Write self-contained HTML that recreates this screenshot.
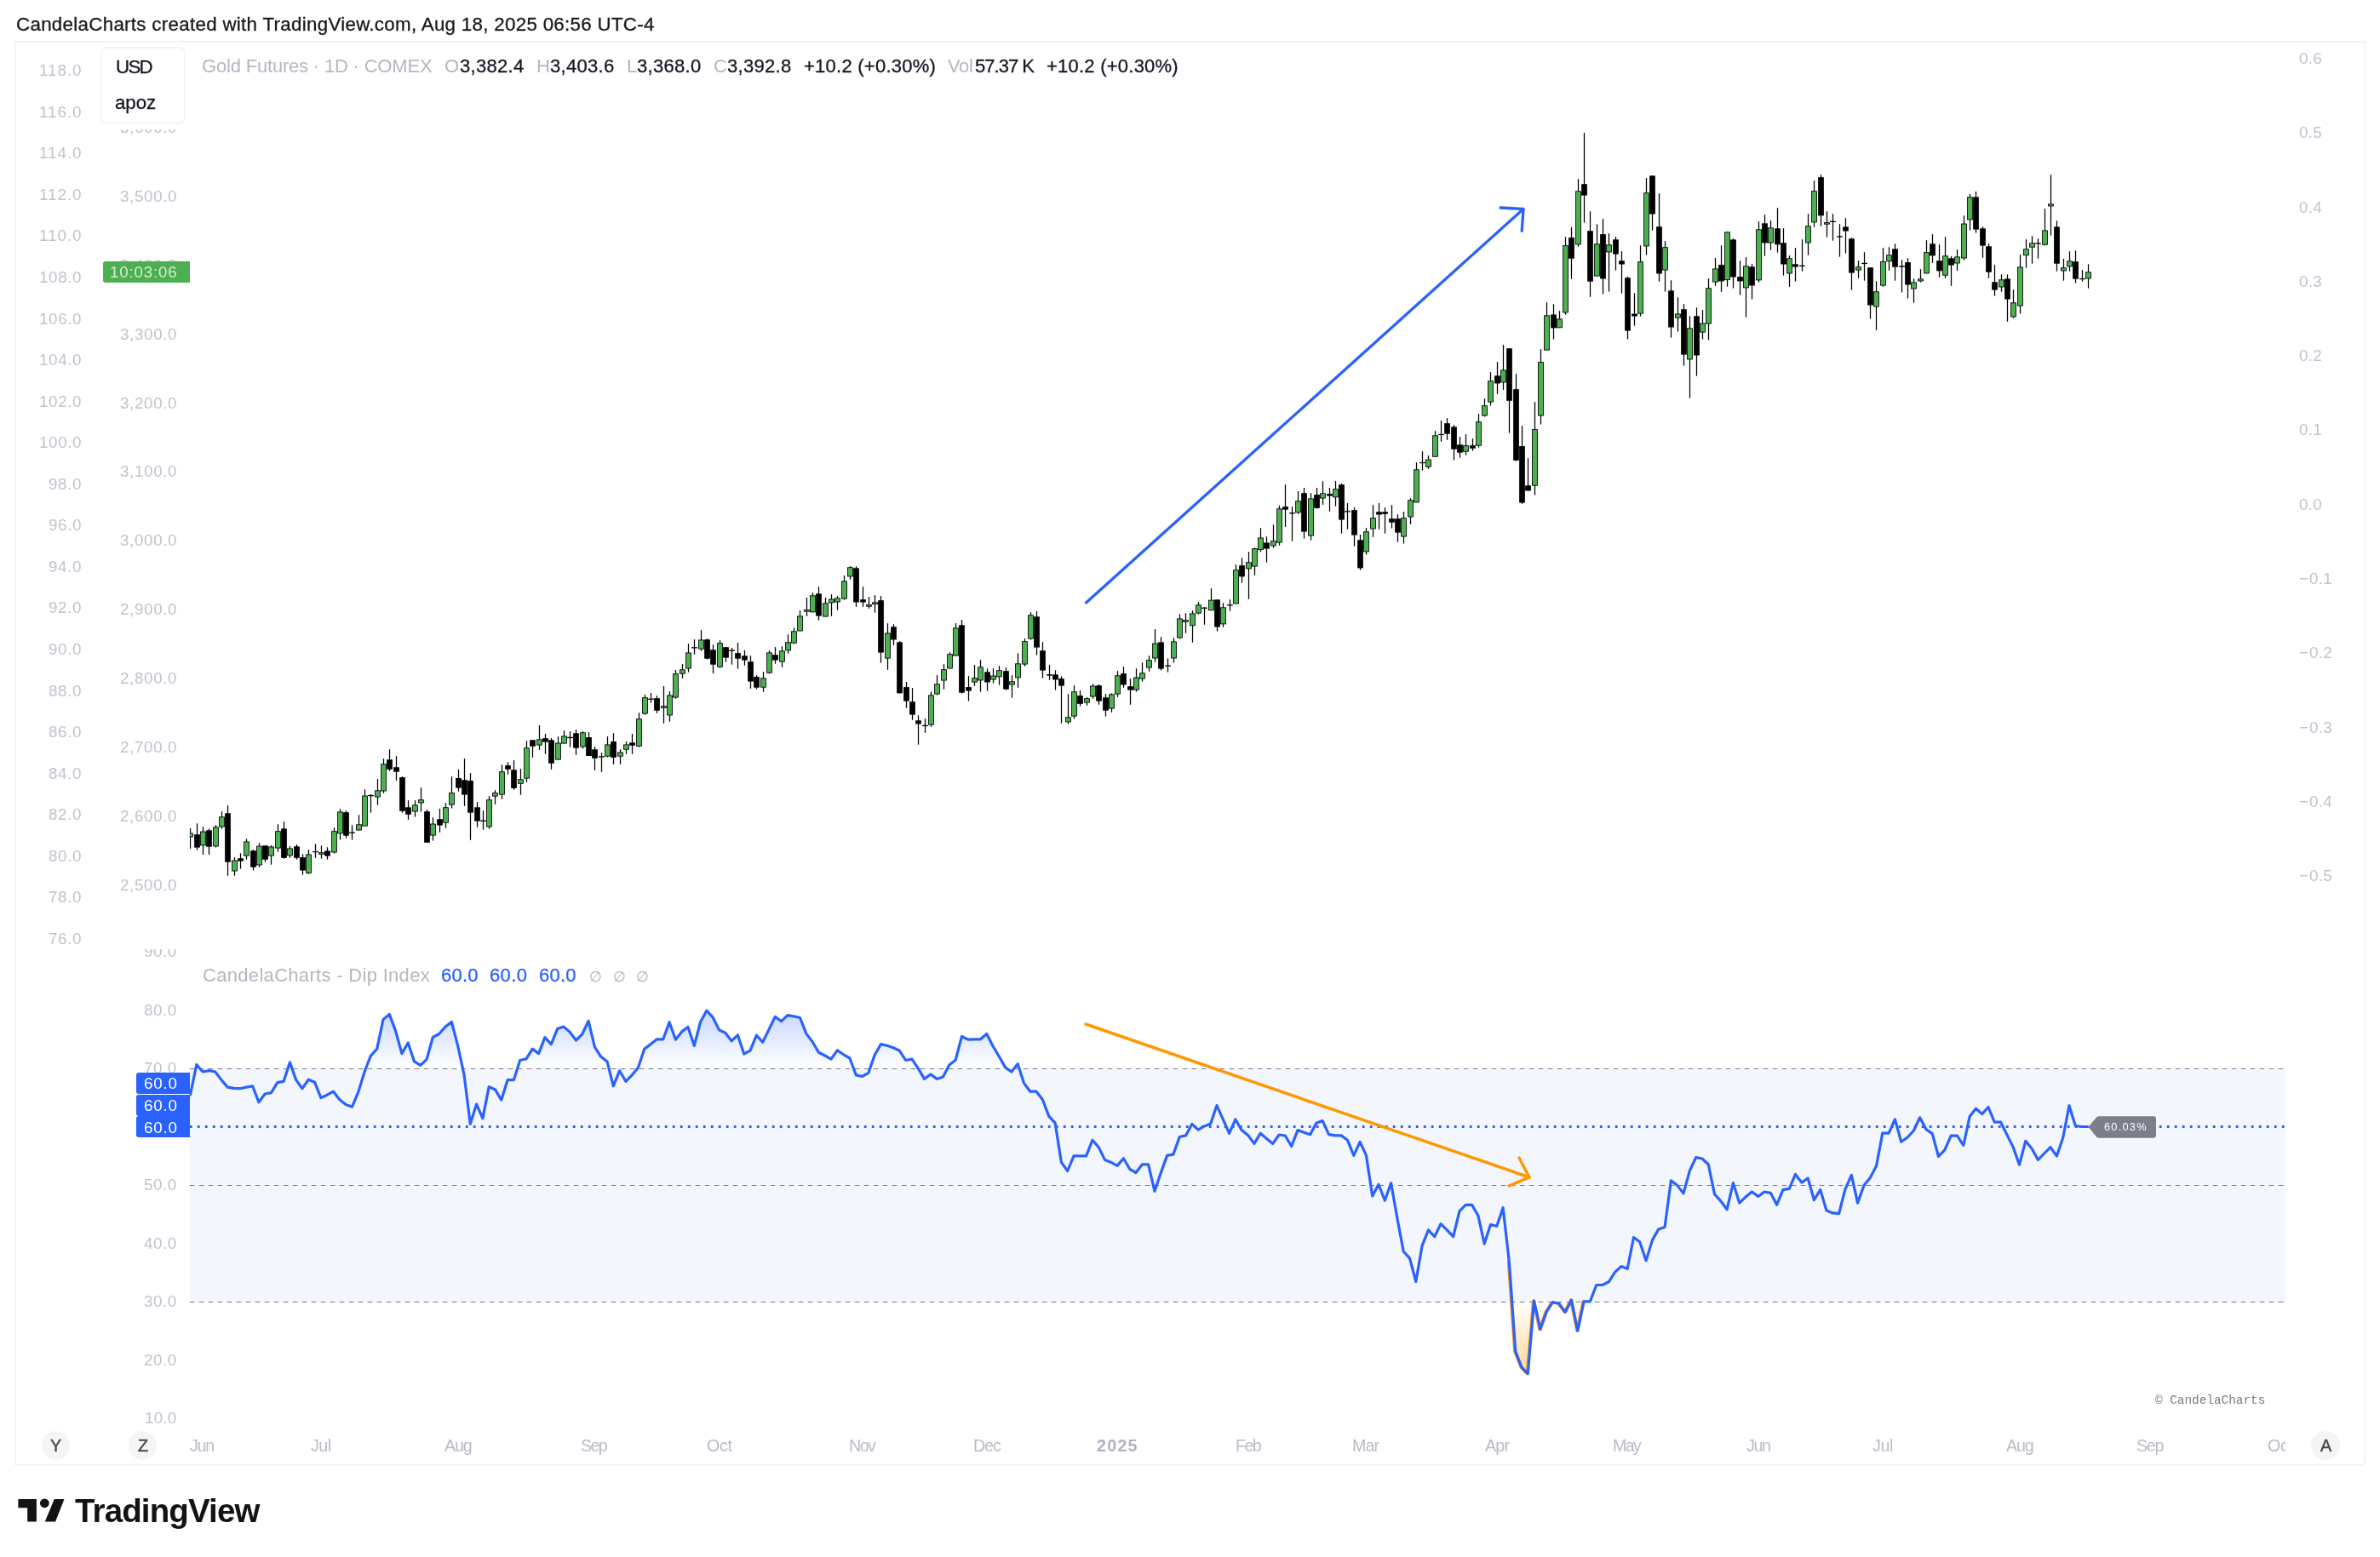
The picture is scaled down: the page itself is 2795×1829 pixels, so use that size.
<!DOCTYPE html>
<html><head><meta charset="utf-8"><title>Gold Futures chart</title>
<style>
html,body{margin:0;padding:0;background:#fff;}
body{width:2795px;height:1829px;position:relative;overflow:hidden;}
.t{position:absolute;white-space:pre;line-height:1;will-change:transform;}
svg{position:absolute;left:0;top:0;}
</style></head><body>
<svg width="2795" height="1829" viewBox="0 0 2795 1829">
<rect x="17.9" y="48.9" width="2759.1" height="1672" fill="none" stroke="#f4f4f5" stroke-width="2"/>
<rect x="222.8" y="1255.5" width="2461" height="274" fill="#f4f6fe"/>
<defs><clipPath id="cp"><rect x="222.8" y="50" width="2461" height="1640"/></clipPath><linearGradient id="gu" gradientUnits="userSpaceOnUse" x1="0" y1="1186" x2="0" y2="1255"><stop offset="0" stop-color="#2962ff" stop-opacity="0.26"/><stop offset="1" stop-color="#2962ff" stop-opacity="0"/></linearGradient><linearGradient id="gd" gradientUnits="userSpaceOnUse" x1="0" y1="1529" x2="0" y2="1612"><stop offset="0" stop-color="#ff9800" stop-opacity="0"/><stop offset="1" stop-color="#ff9800" stop-opacity="0.4"/></linearGradient><clipPath id="cu"><rect x="222.8" y="1100" width="2461" height="155.3"/></clipPath><clipPath id="cd"><rect x="222.8" y="1529.5" width="2461" height="170"/></clipPath></defs>
<polygon clip-path="url(#cu)" fill="url(#gu)" points="223.5,1285.9 230.8,1250.6 238.1,1259.0 245.4,1257.6 252.7,1259.0 260.0,1268.6 267.3,1277.1 274.6,1278.3 281.9,1278.7 289.2,1277.1 296.6,1275.8 303.9,1294.8 311.2,1285.0 318.5,1283.7 325.8,1271.6 333.1,1270.3 340.4,1247.9 347.7,1268.6 355.0,1278.7 362.3,1268.2 369.6,1271.3 376.9,1289.6 384.2,1286.2 391.5,1282.2 398.8,1291.8 406.1,1297.6 413.5,1300.2 420.8,1282.9 428.1,1259.0 435.4,1240.2 442.7,1232.1 450.0,1197.6 457.3,1191.4 464.6,1211.1 471.9,1237.6 479.2,1225.0 486.5,1246.9 493.8,1251.4 501.1,1244.4 508.4,1218.3 515.7,1214.5 523.0,1206.1 530.4,1200.5 537.7,1228.7 545.0,1262.4 552.3,1320.3 559.6,1297.1 566.9,1313.9 574.2,1276.6 581.5,1280.0 588.8,1292.1 596.1,1268.6 603.4,1268.6 610.7,1245.5 618.0,1243.9 625.3,1232.1 632.6,1237.6 639.9,1218.7 647.3,1226.6 654.6,1208.6 661.9,1206.1 669.2,1212.4 676.5,1222.0 683.8,1214.8 691.1,1199.3 698.4,1229.9 705.7,1241.3 713.0,1246.9 720.3,1275.8 727.6,1257.8 734.9,1270.3 742.2,1262.9 749.5,1253.9 756.8,1232.1 764.2,1226.6 771.5,1220.8 778.8,1220.8 786.1,1200.7 793.4,1221.2 800.7,1211.9 808.0,1206.4 815.3,1228.4 822.6,1200.5 829.9,1187.1 837.2,1195.1 844.5,1209.9 851.8,1213.3 859.1,1222.9 866.4,1215.8 873.7,1238.0 881.0,1234.1 888.4,1216.1 895.7,1224.2 903.0,1209.4 910.3,1194.3 917.6,1199.7 924.9,1192.6 932.2,1193.8 939.5,1195.5 946.8,1214.1 954.1,1223.7 961.4,1236.3 968.7,1240.0 976.0,1244.2 983.3,1233.8 990.6,1238.8 997.9,1243.0 1005.3,1262.9 1012.6,1264.5 1019.9,1260.3 1027.2,1239.2 1034.5,1226.6 1041.8,1228.2 1049.1,1230.8 1056.4,1234.3 1063.7,1245.5 1071.0,1244.2 1078.3,1255.1 1085.6,1267.4 1092.9,1262.0 1100.2,1267.4 1107.5,1264.9 1114.8,1250.9 1122.2,1245.2 1129.5,1217.3 1136.8,1221.2 1144.1,1220.8 1151.4,1220.8 1158.7,1214.5 1166.0,1228.7 1173.3,1241.0 1180.6,1253.9 1187.9,1259.0 1195.2,1249.7 1202.5,1272.4 1209.8,1282.2 1217.1,1282.2 1224.4,1291.8 1231.7,1311.1 1239.1,1319.2 1246.4,1365.4 1253.7,1375.5 1261.0,1357.8 1268.3,1357.8 1275.6,1357.8 1282.9,1339.3 1290.2,1347.6 1297.5,1362.4 1304.8,1365.4 1312.1,1369.4 1319.4,1360.7 1326.7,1373.3 1334.0,1377.5 1341.3,1367.9 1348.6,1367.9 1356.0,1399.3 1363.3,1377.6 1370.6,1357.4 1377.9,1356.1 1385.2,1335.5 1392.5,1333.9 1399.8,1320.4 1407.1,1327.1 1414.4,1322.9 1421.7,1320.1 1429.0,1298.6 1436.3,1314.9 1443.6,1331.3 1450.9,1315.0 1458.2,1327.6 1465.5,1333.4 1472.9,1343.4 1480.2,1331.3 1487.5,1337.6 1494.8,1343.4 1502.1,1333.0 1509.4,1334.2 1516.7,1346.5 1524.0,1327.6 1531.3,1330.2 1538.6,1332.7 1545.9,1319.2 1553.2,1316.6 1560.5,1332.7 1567.8,1333.9 1575.1,1333.9 1582.4,1339.2 1589.8,1357.4 1597.1,1341.4 1604.4,1357.1 1611.7,1405.0 1619.0,1391.3 1626.3,1410.3 1633.6,1389.8 1640.9,1431.3 1648.2,1470.0 1655.5,1478.1 1662.8,1505.6 1670.1,1463.3 1677.4,1444.8 1684.7,1452.7 1692.0,1437.6 1699.3,1444.8 1706.7,1452.7 1714.0,1422.6 1721.3,1415.4 1728.6,1415.4 1735.9,1428.0 1743.2,1461.1 1750.5,1438.6 1757.8,1440.3 1765.1,1418.7 1772.4,1482.6 1779.7,1587.3 1787.0,1606.1 1794.3,1613.7 1801.6,1528.0 1808.9,1561.6 1816.2,1540.9 1823.6,1529.7 1830.9,1531.3 1838.2,1541.4 1845.5,1527.1 1852.8,1563.3 1860.1,1528.8 1867.4,1528.8 1874.7,1509.5 1882.0,1509.5 1889.3,1505.8 1896.6,1494.4 1903.9,1487.6 1911.2,1490.5 1918.5,1453.5 1925.8,1459.1 1933.1,1480.9 1940.5,1456.6 1947.8,1443.9 1955.1,1441.4 1962.4,1386.8 1969.7,1392.4 1977.0,1401.9 1984.3,1375.3 1991.6,1359.7 1998.9,1361.0 2006.2,1367.7 2013.5,1402.7 2020.8,1410.9 2028.1,1420.7 2035.4,1389.6 2042.7,1413.1 2050.0,1406.1 2057.4,1400.0 2064.7,1405.5 2072.0,1400.0 2079.3,1401.3 2086.6,1415.3 2093.9,1397.6 2101.2,1396.3 2108.5,1379.5 2115.8,1389.1 2123.1,1384.0 2130.4,1409.7 2137.7,1397.5 2145.0,1422.0 2152.3,1424.9 2159.6,1425.7 2166.9,1397.1 2174.3,1380.3 2181.6,1413.1 2188.9,1392.6 2196.2,1383.7 2203.5,1369.7 2210.8,1331.1 2218.1,1331.1 2225.4,1314.8 2232.7,1341.3 2240.0,1336.3 2247.3,1328.2 2254.6,1312.8 2261.9,1326.6 2269.2,1331.6 2276.5,1358.5 2283.8,1350.9 2291.2,1334.1 2298.5,1334.1 2305.8,1345.5 2313.1,1311.8 2320.4,1302.2 2327.7,1308.6 2335.0,1300.5 2342.3,1318.2 2349.6,1318.2 2356.9,1332.9 2364.2,1347.6 2371.5,1368.2 2378.8,1340.3 2386.1,1349.2 2393.4,1362.4 2400.7,1355.0 2408.0,1347.7 2415.4,1358.0 2422.7,1336.6 2430.0,1298.7 2437.3,1322.5 2444.6,1323.5 2451.9,1323.5 2451.9,1255.5 223.5,1255.5"/>
<polygon clip-path="url(#cd)" fill="url(#gd)" points="223.5,1285.9 230.8,1250.6 238.1,1259.0 245.4,1257.6 252.7,1259.0 260.0,1268.6 267.3,1277.1 274.6,1278.3 281.9,1278.7 289.2,1277.1 296.6,1275.8 303.9,1294.8 311.2,1285.0 318.5,1283.7 325.8,1271.6 333.1,1270.3 340.4,1247.9 347.7,1268.6 355.0,1278.7 362.3,1268.2 369.6,1271.3 376.9,1289.6 384.2,1286.2 391.5,1282.2 398.8,1291.8 406.1,1297.6 413.5,1300.2 420.8,1282.9 428.1,1259.0 435.4,1240.2 442.7,1232.1 450.0,1197.6 457.3,1191.4 464.6,1211.1 471.9,1237.6 479.2,1225.0 486.5,1246.9 493.8,1251.4 501.1,1244.4 508.4,1218.3 515.7,1214.5 523.0,1206.1 530.4,1200.5 537.7,1228.7 545.0,1262.4 552.3,1320.3 559.6,1297.1 566.9,1313.9 574.2,1276.6 581.5,1280.0 588.8,1292.1 596.1,1268.6 603.4,1268.6 610.7,1245.5 618.0,1243.9 625.3,1232.1 632.6,1237.6 639.9,1218.7 647.3,1226.6 654.6,1208.6 661.9,1206.1 669.2,1212.4 676.5,1222.0 683.8,1214.8 691.1,1199.3 698.4,1229.9 705.7,1241.3 713.0,1246.9 720.3,1275.8 727.6,1257.8 734.9,1270.3 742.2,1262.9 749.5,1253.9 756.8,1232.1 764.2,1226.6 771.5,1220.8 778.8,1220.8 786.1,1200.7 793.4,1221.2 800.7,1211.9 808.0,1206.4 815.3,1228.4 822.6,1200.5 829.9,1187.1 837.2,1195.1 844.5,1209.9 851.8,1213.3 859.1,1222.9 866.4,1215.8 873.7,1238.0 881.0,1234.1 888.4,1216.1 895.7,1224.2 903.0,1209.4 910.3,1194.3 917.6,1199.7 924.9,1192.6 932.2,1193.8 939.5,1195.5 946.8,1214.1 954.1,1223.7 961.4,1236.3 968.7,1240.0 976.0,1244.2 983.3,1233.8 990.6,1238.8 997.9,1243.0 1005.3,1262.9 1012.6,1264.5 1019.9,1260.3 1027.2,1239.2 1034.5,1226.6 1041.8,1228.2 1049.1,1230.8 1056.4,1234.3 1063.7,1245.5 1071.0,1244.2 1078.3,1255.1 1085.6,1267.4 1092.9,1262.0 1100.2,1267.4 1107.5,1264.9 1114.8,1250.9 1122.2,1245.2 1129.5,1217.3 1136.8,1221.2 1144.1,1220.8 1151.4,1220.8 1158.7,1214.5 1166.0,1228.7 1173.3,1241.0 1180.6,1253.9 1187.9,1259.0 1195.2,1249.7 1202.5,1272.4 1209.8,1282.2 1217.1,1282.2 1224.4,1291.8 1231.7,1311.1 1239.1,1319.2 1246.4,1365.4 1253.7,1375.5 1261.0,1357.8 1268.3,1357.8 1275.6,1357.8 1282.9,1339.3 1290.2,1347.6 1297.5,1362.4 1304.8,1365.4 1312.1,1369.4 1319.4,1360.7 1326.7,1373.3 1334.0,1377.5 1341.3,1367.9 1348.6,1367.9 1356.0,1399.3 1363.3,1377.6 1370.6,1357.4 1377.9,1356.1 1385.2,1335.5 1392.5,1333.9 1399.8,1320.4 1407.1,1327.1 1414.4,1322.9 1421.7,1320.1 1429.0,1298.6 1436.3,1314.9 1443.6,1331.3 1450.9,1315.0 1458.2,1327.6 1465.5,1333.4 1472.9,1343.4 1480.2,1331.3 1487.5,1337.6 1494.8,1343.4 1502.1,1333.0 1509.4,1334.2 1516.7,1346.5 1524.0,1327.6 1531.3,1330.2 1538.6,1332.7 1545.9,1319.2 1553.2,1316.6 1560.5,1332.7 1567.8,1333.9 1575.1,1333.9 1582.4,1339.2 1589.8,1357.4 1597.1,1341.4 1604.4,1357.1 1611.7,1405.0 1619.0,1391.3 1626.3,1410.3 1633.6,1389.8 1640.9,1431.3 1648.2,1470.0 1655.5,1478.1 1662.8,1505.6 1670.1,1463.3 1677.4,1444.8 1684.7,1452.7 1692.0,1437.6 1699.3,1444.8 1706.7,1452.7 1714.0,1422.6 1721.3,1415.4 1728.6,1415.4 1735.9,1428.0 1743.2,1461.1 1750.5,1438.6 1757.8,1440.3 1765.1,1418.7 1772.4,1482.6 1779.7,1587.3 1787.0,1606.1 1794.3,1613.7 1801.6,1528.0 1808.9,1561.6 1816.2,1540.9 1823.6,1529.7 1830.9,1531.3 1838.2,1541.4 1845.5,1527.1 1852.8,1563.3 1860.1,1528.8 1867.4,1528.8 1874.7,1509.5 1882.0,1509.5 1889.3,1505.8 1896.6,1494.4 1903.9,1487.6 1911.2,1490.5 1918.5,1453.5 1925.8,1459.1 1933.1,1480.9 1940.5,1456.6 1947.8,1443.9 1955.1,1441.4 1962.4,1386.8 1969.7,1392.4 1977.0,1401.9 1984.3,1375.3 1991.6,1359.7 1998.9,1361.0 2006.2,1367.7 2013.5,1402.7 2020.8,1410.9 2028.1,1420.7 2035.4,1389.6 2042.7,1413.1 2050.0,1406.1 2057.4,1400.0 2064.7,1405.5 2072.0,1400.0 2079.3,1401.3 2086.6,1415.3 2093.9,1397.6 2101.2,1396.3 2108.5,1379.5 2115.8,1389.1 2123.1,1384.0 2130.4,1409.7 2137.7,1397.5 2145.0,1422.0 2152.3,1424.9 2159.6,1425.7 2166.9,1397.1 2174.3,1380.3 2181.6,1413.1 2188.9,1392.6 2196.2,1383.7 2203.5,1369.7 2210.8,1331.1 2218.1,1331.1 2225.4,1314.8 2232.7,1341.3 2240.0,1336.3 2247.3,1328.2 2254.6,1312.8 2261.9,1326.6 2269.2,1331.6 2276.5,1358.5 2283.8,1350.9 2291.2,1334.1 2298.5,1334.1 2305.8,1345.5 2313.1,1311.8 2320.4,1302.2 2327.7,1308.6 2335.0,1300.5 2342.3,1318.2 2349.6,1318.2 2356.9,1332.9 2364.2,1347.6 2371.5,1368.2 2378.8,1340.3 2386.1,1349.2 2393.4,1362.4 2400.7,1355.0 2408.0,1347.7 2415.4,1358.0 2422.7,1336.6 2430.0,1298.7 2437.3,1322.5 2444.6,1323.5 2451.9,1323.5 2451.9,1529.5 223.5,1529.5"/>
<line x1="222.8" x2="2683.8" y1="1255.5" y2="1255.5" stroke="#787b86" stroke-width="1.1" stroke-dasharray="5.5 5.5"/>
<line x1="222.8" x2="2683.8" y1="1392.5" y2="1392.5" stroke="#787b86" stroke-width="1.1" stroke-dasharray="5.5 5.5"/>
<line x1="222.8" x2="2683.8" y1="1529.5" y2="1529.5" stroke="#787b86" stroke-width="1.1" stroke-dasharray="5.5 5.5"/>
<line x1="222.8" x2="2683.8" y1="1323.5" y2="1323.5" stroke="#2962ff" stroke-width="2.8" stroke-dasharray="2.8 6.2"/>
<polyline fill="none" stroke="#f5941f" stroke-width="3" stroke-linejoin="round" stroke-linecap="round" points="1771.4,1481.6 1771.3,1482.6 1778.6,1587.3 1785.9,1606.1 1793.2,1613.7 1800.5,1528.0 1807.8,1561.6 1815.1,1540.9 1822.5,1529.7 1829.8,1531.3 1837.1,1541.4 1844.4,1527.1 1851.7,1563.3 1859.0,1528.8"/>
<polyline clip-path="url(#cp)" fill="none" stroke="#2962ff" stroke-width="3.2" stroke-linejoin="round" stroke-linecap="round" points="223.5,1285.9 230.8,1250.6 238.1,1259.0 245.4,1257.6 252.7,1259.0 260.0,1268.6 267.3,1277.1 274.6,1278.3 281.9,1278.7 289.2,1277.1 296.6,1275.8 303.9,1294.8 311.2,1285.0 318.5,1283.7 325.8,1271.6 333.1,1270.3 340.4,1247.9 347.7,1268.6 355.0,1278.7 362.3,1268.2 369.6,1271.3 376.9,1289.6 384.2,1286.2 391.5,1282.2 398.8,1291.8 406.1,1297.6 413.5,1300.2 420.8,1282.9 428.1,1259.0 435.4,1240.2 442.7,1232.1 450.0,1197.6 457.3,1191.4 464.6,1211.1 471.9,1237.6 479.2,1225.0 486.5,1246.9 493.8,1251.4 501.1,1244.4 508.4,1218.3 515.7,1214.5 523.0,1206.1 530.4,1200.5 537.7,1228.7 545.0,1262.4 552.3,1320.3 559.6,1297.1 566.9,1313.9 574.2,1276.6 581.5,1280.0 588.8,1292.1 596.1,1268.6 603.4,1268.6 610.7,1245.5 618.0,1243.9 625.3,1232.1 632.6,1237.6 639.9,1218.7 647.3,1226.6 654.6,1208.6 661.9,1206.1 669.2,1212.4 676.5,1222.0 683.8,1214.8 691.1,1199.3 698.4,1229.9 705.7,1241.3 713.0,1246.9 720.3,1275.8 727.6,1257.8 734.9,1270.3 742.2,1262.9 749.5,1253.9 756.8,1232.1 764.2,1226.6 771.5,1220.8 778.8,1220.8 786.1,1200.7 793.4,1221.2 800.7,1211.9 808.0,1206.4 815.3,1228.4 822.6,1200.5 829.9,1187.1 837.2,1195.1 844.5,1209.9 851.8,1213.3 859.1,1222.9 866.4,1215.8 873.7,1238.0 881.0,1234.1 888.4,1216.1 895.7,1224.2 903.0,1209.4 910.3,1194.3 917.6,1199.7 924.9,1192.6 932.2,1193.8 939.5,1195.5 946.8,1214.1 954.1,1223.7 961.4,1236.3 968.7,1240.0 976.0,1244.2 983.3,1233.8 990.6,1238.8 997.9,1243.0 1005.3,1262.9 1012.6,1264.5 1019.9,1260.3 1027.2,1239.2 1034.5,1226.6 1041.8,1228.2 1049.1,1230.8 1056.4,1234.3 1063.7,1245.5 1071.0,1244.2 1078.3,1255.1 1085.6,1267.4 1092.9,1262.0 1100.2,1267.4 1107.5,1264.9 1114.8,1250.9 1122.2,1245.2 1129.5,1217.3 1136.8,1221.2 1144.1,1220.8 1151.4,1220.8 1158.7,1214.5 1166.0,1228.7 1173.3,1241.0 1180.6,1253.9 1187.9,1259.0 1195.2,1249.7 1202.5,1272.4 1209.8,1282.2 1217.1,1282.2 1224.4,1291.8 1231.7,1311.1 1239.1,1319.2 1246.4,1365.4 1253.7,1375.5 1261.0,1357.8 1268.3,1357.8 1275.6,1357.8 1282.9,1339.3 1290.2,1347.6 1297.5,1362.4 1304.8,1365.4 1312.1,1369.4 1319.4,1360.7 1326.7,1373.3 1334.0,1377.5 1341.3,1367.9 1348.6,1367.9 1356.0,1399.3 1363.3,1377.6 1370.6,1357.4 1377.9,1356.1 1385.2,1335.5 1392.5,1333.9 1399.8,1320.4 1407.1,1327.1 1414.4,1322.9 1421.7,1320.1 1429.0,1298.6 1436.3,1314.9 1443.6,1331.3 1450.9,1315.0 1458.2,1327.6 1465.5,1333.4 1472.9,1343.4 1480.2,1331.3 1487.5,1337.6 1494.8,1343.4 1502.1,1333.0 1509.4,1334.2 1516.7,1346.5 1524.0,1327.6 1531.3,1330.2 1538.6,1332.7 1545.9,1319.2 1553.2,1316.6 1560.5,1332.7 1567.8,1333.9 1575.1,1333.9 1582.4,1339.2 1589.8,1357.4 1597.1,1341.4 1604.4,1357.1 1611.7,1405.0 1619.0,1391.3 1626.3,1410.3 1633.6,1389.8 1640.9,1431.3 1648.2,1470.0 1655.5,1478.1 1662.8,1505.6 1670.1,1463.3 1677.4,1444.8 1684.7,1452.7 1692.0,1437.6 1699.3,1444.8 1706.7,1452.7 1714.0,1422.6 1721.3,1415.4 1728.6,1415.4 1735.9,1428.0 1743.2,1461.1 1750.5,1438.6 1757.8,1440.3 1765.1,1418.7 1772.4,1482.6 1779.7,1587.3 1787.0,1606.1 1794.3,1613.7 1801.6,1528.0 1808.9,1561.6 1816.2,1540.9 1823.6,1529.7 1830.9,1531.3 1838.2,1541.4 1845.5,1527.1 1852.8,1563.3 1860.1,1528.8 1867.4,1528.8 1874.7,1509.5 1882.0,1509.5 1889.3,1505.8 1896.6,1494.4 1903.9,1487.6 1911.2,1490.5 1918.5,1453.5 1925.8,1459.1 1933.1,1480.9 1940.5,1456.6 1947.8,1443.9 1955.1,1441.4 1962.4,1386.8 1969.7,1392.4 1977.0,1401.9 1984.3,1375.3 1991.6,1359.7 1998.9,1361.0 2006.2,1367.7 2013.5,1402.7 2020.8,1410.9 2028.1,1420.7 2035.4,1389.6 2042.7,1413.1 2050.0,1406.1 2057.4,1400.0 2064.7,1405.5 2072.0,1400.0 2079.3,1401.3 2086.6,1415.3 2093.9,1397.6 2101.2,1396.3 2108.5,1379.5 2115.8,1389.1 2123.1,1384.0 2130.4,1409.7 2137.7,1397.5 2145.0,1422.0 2152.3,1424.9 2159.6,1425.7 2166.9,1397.1 2174.3,1380.3 2181.6,1413.1 2188.9,1392.6 2196.2,1383.7 2203.5,1369.7 2210.8,1331.1 2218.1,1331.1 2225.4,1314.8 2232.7,1341.3 2240.0,1336.3 2247.3,1328.2 2254.6,1312.8 2261.9,1326.6 2269.2,1331.6 2276.5,1358.5 2283.8,1350.9 2291.2,1334.1 2298.5,1334.1 2305.8,1345.5 2313.1,1311.8 2320.4,1302.2 2327.7,1308.6 2335.0,1300.5 2342.3,1318.2 2349.6,1318.2 2356.9,1332.9 2364.2,1347.6 2371.5,1368.2 2378.8,1340.3 2386.1,1349.2 2393.4,1362.4 2400.7,1355.0 2408.0,1347.7 2415.4,1358.0 2422.7,1336.6 2430.0,1298.7 2437.3,1322.5 2444.6,1323.5 2451.9,1323.5"/>
<g clip-path="url(#cp)"><line x1="223.5" x2="223.5" y1="973.1" y2="996.9" stroke="#000" stroke-width="1.25"/><rect x="220.57" y="979.0" width="5.86" height="4.0" fill="#4caf50" stroke="#000" stroke-width="0.85"/><line x1="231.5" x2="231.5" y1="967.3" y2="998.8" stroke="#000" stroke-width="1.25"/><rect x="228.13" y="980.2" width="6.74" height="15.4" fill="#000"/><line x1="238.5" x2="238.5" y1="971.2" y2="1003.9" stroke="#000" stroke-width="1.25"/><rect x="235.57" y="977.0" width="5.86" height="15.9" fill="#4caf50" stroke="#000" stroke-width="0.85"/><line x1="245.5" x2="245.5" y1="973.4" y2="1003.9" stroke="#000" stroke-width="1.25"/><rect x="242.13" y="975.3" width="6.74" height="19.4" fill="#000"/><line x1="253.5" x2="253.5" y1="969.3" y2="995.6" stroke="#000" stroke-width="1.25"/><rect x="250.57" y="971.8" width="5.86" height="22.1" fill="#4caf50" stroke="#000" stroke-width="0.85"/><line x1="260.5" x2="260.5" y1="953.2" y2="973.7" stroke="#000" stroke-width="1.25"/><rect x="257.57" y="959.8" width="5.86" height="11.2" fill="#4caf50" stroke="#000" stroke-width="0.85"/><line x1="267.5" x2="267.5" y1="946.1" y2="1028.7" stroke="#000" stroke-width="1.25"/><rect x="264.13" y="955.3" width="6.74" height="57.4" fill="#000"/><line x1="275.5" x2="275.5" y1="1007.1" y2="1028.7" stroke="#000" stroke-width="1.25"/><rect x="272.57" y="1011.0" width="5.86" height="12.0" fill="#4caf50" stroke="#000" stroke-width="0.85"/><line x1="282.5" x2="282.5" y1="1002.3" y2="1020.6" stroke="#000" stroke-width="1.25"/><rect x="279.13" y="1008.2" width="6.74" height="3.4" fill="#000"/><line x1="289.5" x2="289.5" y1="985.3" y2="1009.7" stroke="#000" stroke-width="1.25"/><rect x="286.57" y="988.9" width="5.86" height="16.2" fill="#4caf50" stroke="#000" stroke-width="0.85"/><line x1="297.5" x2="297.5" y1="998.1" y2="1022.5" stroke="#000" stroke-width="1.25"/><rect x="294.13" y="999.2" width="6.74" height="19.5" fill="#000"/><line x1="304.5" x2="304.5" y1="990.2" y2="1018.7" stroke="#000" stroke-width="1.25"/><rect x="301.57" y="994.1" width="5.86" height="21.9" fill="#4caf50" stroke="#000" stroke-width="0.85"/><line x1="311.5" x2="311.5" y1="993.0" y2="1012.7" stroke="#000" stroke-width="1.25"/><rect x="308.13" y="993.3" width="6.74" height="16.4" fill="#000"/><line x1="318.5" x2="318.5" y1="993.0" y2="1015.7" stroke="#000" stroke-width="1.25"/><rect x="315.57" y="994.9" width="5.86" height="10.2" fill="#4caf50" stroke="#000" stroke-width="0.85"/><line x1="326.5" x2="326.5" y1="968.2" y2="1000.7" stroke="#000" stroke-width="1.25"/><rect x="323.57" y="976.7" width="5.86" height="19.4" fill="#4caf50" stroke="#000" stroke-width="0.85"/><line x1="333.5" x2="333.5" y1="965.1" y2="1008.7" stroke="#000" stroke-width="1.25"/><rect x="330.13" y="973.4" width="6.74" height="34.4" fill="#000"/><line x1="340.5" x2="340.5" y1="994.0" y2="1007.8" stroke="#000" stroke-width="1.25"/><rect x="337.57" y="996.9" width="5.86" height="7.9" fill="#4caf50" stroke="#000" stroke-width="0.85"/><line x1="348.5" x2="348.5" y1="992.0" y2="1009.7" stroke="#000" stroke-width="1.25"/><rect x="345.13" y="994.3" width="6.74" height="13.5" fill="#000"/><line x1="355.5" x2="355.5" y1="1003.3" y2="1027.7" stroke="#000" stroke-width="1.25"/><rect x="352.13" y="1007.1" width="6.74" height="15.4" fill="#000"/><line x1="362.5" x2="362.5" y1="998.1" y2="1026.8" stroke="#000" stroke-width="1.25"/><rect x="359.57" y="1003.9" width="5.86" height="21.5" fill="#4caf50" stroke="#000" stroke-width="0.85"/><line x1="370.5" x2="370.5" y1="991.3" y2="1007.8" stroke="#000" stroke-width="1.25"/><rect x="367.13" y="999.9" width="6.74" height="1.3" fill="#000"/><line x1="377.5" x2="377.5" y1="993.3" y2="1008.7" stroke="#000" stroke-width="1.25"/><rect x="374.57" y="1001.7" width="5.86" height="1.6" fill="#4caf50" stroke="#000" stroke-width="0.85"/><line x1="384.5" x2="384.5" y1="995.2" y2="1009.7" stroke="#000" stroke-width="1.25"/><rect x="381.13" y="999.4" width="6.74" height="6.2" fill="#000"/><line x1="392.5" x2="392.5" y1="972.2" y2="1002.6" stroke="#000" stroke-width="1.25"/><rect x="389.57" y="976.7" width="5.86" height="24.3" fill="#4caf50" stroke="#000" stroke-width="0.85"/><line x1="399.5" x2="399.5" y1="950.2" y2="986.6" stroke="#000" stroke-width="1.25"/><rect x="396.57" y="953.9" width="5.86" height="25.0" fill="#4caf50" stroke="#000" stroke-width="0.85"/><line x1="406.5" x2="406.5" y1="952.2" y2="984.7" stroke="#000" stroke-width="1.25"/><rect x="403.13" y="954.2" width="6.74" height="27.5" fill="#000"/><line x1="413.5" x2="413.5" y1="969.3" y2="986.6" stroke="#000" stroke-width="1.25"/><rect x="410.13" y="977.5" width="6.74" height="1.3" fill="#000"/><line x1="421.5" x2="421.5" y1="957.3" y2="975.7" stroke="#000" stroke-width="1.25"/><rect x="418.57" y="968.8" width="5.86" height="6.2" fill="#4caf50" stroke="#000" stroke-width="0.85"/><line x1="428.5" x2="428.5" y1="927.3" y2="970.5" stroke="#000" stroke-width="1.25"/><rect x="425.57" y="935.0" width="5.86" height="35.1" fill="#4caf50" stroke="#000" stroke-width="0.85"/><line x1="435.5" x2="435.5" y1="933.0" y2="954.7" stroke="#000" stroke-width="1.25"/><rect x="432.13" y="933.9" width="6.74" height="1.3" fill="#000"/><line x1="443.5" x2="443.5" y1="915.1" y2="945.8" stroke="#000" stroke-width="1.25"/><rect x="440.57" y="928.8" width="5.86" height="7.3" fill="#4caf50" stroke="#000" stroke-width="0.85"/><line x1="450.5" x2="450.5" y1="891.2" y2="931.8" stroke="#000" stroke-width="1.25"/><rect x="447.57" y="897.7" width="5.86" height="31.3" fill="#4caf50" stroke="#000" stroke-width="0.85"/><line x1="457.5" x2="457.5" y1="880.3" y2="905.7" stroke="#000" stroke-width="1.25"/><rect x="454.13" y="892.2" width="6.74" height="11.6" fill="#000"/><line x1="465.5" x2="465.5" y1="888.1" y2="916.9" stroke="#000" stroke-width="1.25"/><rect x="462.13" y="901.2" width="6.74" height="5.5" fill="#000"/><line x1="472.5" x2="472.5" y1="912.1" y2="954.7" stroke="#000" stroke-width="1.25"/><rect x="469.13" y="913.1" width="6.74" height="39.7" fill="#000"/><line x1="479.5" x2="479.5" y1="940.1" y2="962.8" stroke="#000" stroke-width="1.25"/><rect x="476.13" y="948.3" width="6.74" height="8.5" fill="#000"/><line x1="487.5" x2="487.5" y1="940.1" y2="959.6" stroke="#000" stroke-width="1.25"/><rect x="484.57" y="945.9" width="5.86" height="7.2" fill="#4caf50" stroke="#000" stroke-width="0.85"/><line x1="494.5" x2="494.5" y1="925.2" y2="953.6" stroke="#000" stroke-width="1.25"/><rect x="491.57" y="939.7" width="5.86" height="3.2" fill="#4caf50" stroke="#000" stroke-width="0.85"/><line x1="501.5" x2="501.5" y1="951.0" y2="989.8" stroke="#000" stroke-width="1.25"/><rect x="498.13" y="953.2" width="6.74" height="36.6" fill="#000"/><line x1="508.5" x2="508.5" y1="960.3" y2="987.6" stroke="#000" stroke-width="1.25"/><rect x="505.57" y="968.0" width="5.86" height="13.1" fill="#4caf50" stroke="#000" stroke-width="0.85"/><line x1="516.5" x2="516.5" y1="950.0" y2="977.9" stroke="#000" stroke-width="1.25"/><rect x="513.13" y="962.2" width="6.74" height="7.3" fill="#000"/><line x1="523.5" x2="523.5" y1="943.2" y2="972.7" stroke="#000" stroke-width="1.25"/><rect x="520.57" y="948.7" width="5.86" height="17.5" fill="#4caf50" stroke="#000" stroke-width="0.85"/><line x1="530.5" x2="530.5" y1="912.1" y2="949.6" stroke="#000" stroke-width="1.25"/><rect x="527.57" y="931.6" width="5.86" height="13.5" fill="#4caf50" stroke="#000" stroke-width="0.85"/><line x1="538.5" x2="538.5" y1="904.0" y2="929.7" stroke="#000" stroke-width="1.25"/><rect x="535.13" y="914.0" width="6.74" height="11.6" fill="#000"/><line x1="545.5" x2="545.5" y1="891.2" y2="946.8" stroke="#000" stroke-width="1.25"/><rect x="542.13" y="916.2" width="6.74" height="17.4" fill="#000"/><line x1="552.5" x2="552.5" y1="908.1" y2="986.8" stroke="#000" stroke-width="1.25"/><rect x="549.13" y="917.1" width="6.74" height="37.6" fill="#000"/><line x1="560.5" x2="560.5" y1="942.2" y2="971.7" stroke="#000" stroke-width="1.25"/><rect x="557.13" y="948.3" width="6.74" height="16.3" fill="#000"/><line x1="567.5" x2="567.5" y1="952.2" y2="974.7" stroke="#000" stroke-width="1.25"/><rect x="564.13" y="963.6" width="6.74" height="1.3" fill="#000"/><line x1="574.5" x2="574.5" y1="935.1" y2="973.6" stroke="#000" stroke-width="1.25"/><rect x="571.57" y="939.7" width="5.86" height="31.3" fill="#4caf50" stroke="#000" stroke-width="0.85"/><line x1="581.5" x2="581.5" y1="928.2" y2="944.9" stroke="#000" stroke-width="1.25"/><rect x="578.57" y="931.6" width="5.86" height="3.5" fill="#4caf50" stroke="#000" stroke-width="0.85"/><line x1="589.5" x2="589.5" y1="898.2" y2="938.7" stroke="#000" stroke-width="1.25"/><rect x="586.57" y="906.7" width="5.86" height="26.5" fill="#4caf50" stroke="#000" stroke-width="0.85"/><line x1="596.5" x2="596.5" y1="895.3" y2="909.8" stroke="#000" stroke-width="1.25"/><rect x="593.13" y="899.1" width="6.74" height="4.7" fill="#000"/><line x1="603.5" x2="603.5" y1="893.1" y2="927.8" stroke="#000" stroke-width="1.25"/><rect x="600.13" y="904.3" width="6.74" height="21.6" fill="#000"/><line x1="611.5" x2="611.5" y1="903.1" y2="933.8" stroke="#000" stroke-width="1.25"/><rect x="608.57" y="915.7" width="5.86" height="4.6" fill="#4caf50" stroke="#000" stroke-width="0.85"/><line x1="618.5" x2="618.5" y1="870.2" y2="918.8" stroke="#000" stroke-width="1.25"/><rect x="615.57" y="878.7" width="5.86" height="35.4" fill="#4caf50" stroke="#000" stroke-width="0.85"/><line x1="625.5" x2="625.5" y1="869.1" y2="889.9" stroke="#000" stroke-width="1.25"/><rect x="622.13" y="869.3" width="6.74" height="7.5" fill="#000"/><line x1="633.5" x2="633.5" y1="852.0" y2="880.9" stroke="#000" stroke-width="1.25"/><rect x="630.57" y="868.8" width="5.86" height="6.3" fill="#4caf50" stroke="#000" stroke-width="0.85"/><line x1="640.5" x2="640.5" y1="862.0" y2="885.8" stroke="#000" stroke-width="1.25"/><rect x="637.13" y="867.2" width="6.74" height="4.5" fill="#000"/><line x1="647.5" x2="647.5" y1="867.0" y2="903.8" stroke="#000" stroke-width="1.25"/><rect x="644.13" y="869.3" width="6.74" height="27.4" fill="#000"/><line x1="655.5" x2="655.5" y1="865.2" y2="892.5" stroke="#000" stroke-width="1.25"/><rect x="652.57" y="873.0" width="5.86" height="19.1" fill="#4caf50" stroke="#000" stroke-width="0.85"/><line x1="662.5" x2="662.5" y1="858.2" y2="873.5" stroke="#000" stroke-width="1.25"/><rect x="659.57" y="864.9" width="5.86" height="8.2" fill="#4caf50" stroke="#000" stroke-width="0.85"/><line x1="669.5" x2="669.5" y1="859.1" y2="877.7" stroke="#000" stroke-width="1.25"/><rect x="666.13" y="865.8" width="6.74" height="1.3" fill="#000"/><line x1="676.5" x2="676.5" y1="857.1" y2="886.9" stroke="#000" stroke-width="1.25"/><rect x="673.13" y="861.3" width="6.74" height="17.4" fill="#000"/><line x1="684.5" x2="684.5" y1="859.1" y2="879.6" stroke="#000" stroke-width="1.25"/><rect x="681.57" y="860.8" width="5.86" height="16.2" fill="#4caf50" stroke="#000" stroke-width="0.85"/><line x1="691.5" x2="691.5" y1="860.1" y2="888.0" stroke="#000" stroke-width="1.25"/><rect x="688.13" y="866.1" width="6.74" height="21.9" fill="#000"/><line x1="698.5" x2="698.5" y1="877.1" y2="904.9" stroke="#000" stroke-width="1.25"/><rect x="695.13" y="880.3" width="6.74" height="10.5" fill="#000"/><line x1="706.5" x2="706.5" y1="884.1" y2="906.8" stroke="#000" stroke-width="1.25"/><rect x="703.13" y="888.2" width="6.74" height="1.4" fill="#000"/><line x1="713.5" x2="713.5" y1="865.2" y2="889.6" stroke="#000" stroke-width="1.25"/><rect x="710.57" y="874.9" width="5.86" height="13.3" fill="#4caf50" stroke="#000" stroke-width="0.85"/><line x1="720.5" x2="720.5" y1="861.3" y2="897.9" stroke="#000" stroke-width="1.25"/><rect x="717.13" y="871.0" width="6.74" height="18.9" fill="#000"/><line x1="728.5" x2="728.5" y1="880.3" y2="897.9" stroke="#000" stroke-width="1.25"/><rect x="725.57" y="883.9" width="5.86" height="4.3" fill="#4caf50" stroke="#000" stroke-width="0.85"/><line x1="735.5" x2="735.5" y1="871.0" y2="885.8" stroke="#000" stroke-width="1.25"/><rect x="732.57" y="874.9" width="5.86" height="5.3" fill="#4caf50" stroke="#000" stroke-width="0.85"/><line x1="742.5" x2="742.5" y1="862.0" y2="885.8" stroke="#000" stroke-width="1.25"/><rect x="739.13" y="872.3" width="6.74" height="3.5" fill="#000"/><line x1="750.5" x2="750.5" y1="837.2" y2="877.7" stroke="#000" stroke-width="1.25"/><rect x="747.57" y="844.7" width="5.86" height="31.6" fill="#4caf50" stroke="#000" stroke-width="0.85"/><line x1="757.5" x2="757.5" y1="816.1" y2="839.8" stroke="#000" stroke-width="1.25"/><rect x="754.57" y="819.7" width="5.86" height="18.4" fill="#4caf50" stroke="#000" stroke-width="0.85"/><line x1="764.5" x2="764.5" y1="814.1" y2="825.7" stroke="#000" stroke-width="1.25"/><rect x="761.13" y="820.6" width="6.74" height="1.3" fill="#000"/><line x1="771.5" x2="771.5" y1="817.1" y2="837.9" stroke="#000" stroke-width="1.25"/><rect x="768.13" y="820.2" width="6.74" height="14.5" fill="#000"/><line x1="779.5" x2="779.5" y1="806.0" y2="849.8" stroke="#000" stroke-width="1.25"/><rect x="776.57" y="829.7" width="5.86" height="1.6" fill="#4caf50" stroke="#000" stroke-width="0.85"/><line x1="786.5" x2="786.5" y1="812.1" y2="847.8" stroke="#000" stroke-width="1.25"/><rect x="783.57" y="817.0" width="5.86" height="23.0" fill="#4caf50" stroke="#000" stroke-width="0.85"/><line x1="793.5" x2="793.5" y1="787.0" y2="820.8" stroke="#000" stroke-width="1.25"/><rect x="790.57" y="791.7" width="5.86" height="27.4" fill="#4caf50" stroke="#000" stroke-width="0.85"/><line x1="801.5" x2="801.5" y1="780.1" y2="796.8" stroke="#000" stroke-width="1.25"/><rect x="798.57" y="786.8" width="5.86" height="4.4" fill="#4caf50" stroke="#000" stroke-width="0.85"/><line x1="808.5" x2="808.5" y1="756.2" y2="789.7" stroke="#000" stroke-width="1.25"/><rect x="805.57" y="766.9" width="5.86" height="18.2" fill="#4caf50" stroke="#000" stroke-width="0.85"/><line x1="815.5" x2="815.5" y1="751.1" y2="768.8" stroke="#000" stroke-width="1.25"/><rect x="812.13" y="760.1" width="6.74" height="1.4" fill="#000"/><line x1="823.5" x2="823.5" y1="740.2" y2="764.7" stroke="#000" stroke-width="1.25"/><rect x="820.57" y="751.9" width="5.86" height="10.3" fill="#4caf50" stroke="#000" stroke-width="0.85"/><line x1="830.5" x2="830.5" y1="750.2" y2="774.6" stroke="#000" stroke-width="1.25"/><rect x="827.13" y="751.2" width="6.74" height="22.5" fill="#000"/><line x1="837.5" x2="837.5" y1="757.2" y2="790.9" stroke="#000" stroke-width="1.25"/><rect x="834.13" y="763.3" width="6.74" height="17.4" fill="#000"/><line x1="845.5" x2="845.5" y1="752.1" y2="784.6" stroke="#000" stroke-width="1.25"/><rect x="842.57" y="755.7" width="5.86" height="27.5" fill="#4caf50" stroke="#000" stroke-width="0.85"/><line x1="852.5" x2="852.5" y1="760.1" y2="777.8" stroke="#000" stroke-width="1.25"/><rect x="849.13" y="760.2" width="6.74" height="12.4" fill="#000"/><line x1="859.5" x2="859.5" y1="761.1" y2="780.7" stroke="#000" stroke-width="1.25"/><rect x="856.13" y="763.6" width="6.74" height="1.3" fill="#000"/><line x1="866.5" x2="866.5" y1="755.0" y2="785.7" stroke="#000" stroke-width="1.25"/><rect x="863.13" y="767.1" width="6.74" height="6.6" fill="#000"/><line x1="874.5" x2="874.5" y1="764.0" y2="781.6" stroke="#000" stroke-width="1.25"/><rect x="871.13" y="770.3" width="6.74" height="5.3" fill="#000"/><line x1="881.5" x2="881.5" y1="770.3" y2="808.9" stroke="#000" stroke-width="1.25"/><rect x="878.13" y="777.1" width="6.74" height="23.5" fill="#000"/><line x1="888.5" x2="888.5" y1="793.2" y2="809.6" stroke="#000" stroke-width="1.25"/><rect x="885.13" y="795.1" width="6.74" height="12.6" fill="#000"/><line x1="896.5" x2="896.5" y1="789.1" y2="812.8" stroke="#000" stroke-width="1.25"/><rect x="893.57" y="796.8" width="5.86" height="10.4" fill="#4caf50" stroke="#000" stroke-width="0.85"/><line x1="903.5" x2="903.5" y1="764.0" y2="791.5" stroke="#000" stroke-width="1.25"/><rect x="900.57" y="766.9" width="5.86" height="23.3" fill="#4caf50" stroke="#000" stroke-width="0.85"/><line x1="910.5" x2="910.5" y1="760.1" y2="779.7" stroke="#000" stroke-width="1.25"/><rect x="907.13" y="769.2" width="6.74" height="6.4" fill="#000"/><line x1="918.5" x2="918.5" y1="759.2" y2="783.8" stroke="#000" stroke-width="1.25"/><rect x="915.57" y="764.9" width="5.86" height="12.2" fill="#4caf50" stroke="#000" stroke-width="0.85"/><line x1="925.5" x2="925.5" y1="745.3" y2="767.8" stroke="#000" stroke-width="1.25"/><rect x="922.57" y="754.8" width="5.86" height="9.1" fill="#4caf50" stroke="#000" stroke-width="0.85"/><line x1="932.5" x2="932.5" y1="737.3" y2="756.6" stroke="#000" stroke-width="1.25"/><rect x="929.57" y="741.8" width="5.86" height="13.4" fill="#4caf50" stroke="#000" stroke-width="0.85"/><line x1="939.5" x2="939.5" y1="717.2" y2="741.4" stroke="#000" stroke-width="1.25"/><rect x="936.57" y="723.9" width="5.86" height="17.1" fill="#4caf50" stroke="#000" stroke-width="0.85"/><line x1="947.5" x2="947.5" y1="702.0" y2="723.8" stroke="#000" stroke-width="1.25"/><rect x="944.57" y="716.6" width="5.86" height="1.6" fill="#4caf50" stroke="#000" stroke-width="0.85"/><line x1="954.5" x2="954.5" y1="696.2" y2="719.3" stroke="#000" stroke-width="1.25"/><rect x="951.57" y="699.8" width="5.86" height="19.1" fill="#4caf50" stroke="#000" stroke-width="0.85"/><line x1="961.5" x2="961.5" y1="689.2" y2="728.7" stroke="#000" stroke-width="1.25"/><rect x="958.13" y="697.3" width="6.74" height="26.3" fill="#000"/><line x1="969.5" x2="969.5" y1="702.0" y2="724.5" stroke="#000" stroke-width="1.25"/><rect x="966.57" y="708.8" width="5.86" height="15.3" fill="#4caf50" stroke="#000" stroke-width="0.85"/><line x1="976.5" x2="976.5" y1="698.2" y2="723.8" stroke="#000" stroke-width="1.25"/><rect x="973.57" y="704.0" width="5.86" height="4.0" fill="#4caf50" stroke="#000" stroke-width="0.85"/><line x1="983.5" x2="983.5" y1="700.1" y2="716.8" stroke="#000" stroke-width="1.25"/><rect x="980.57" y="702.8" width="5.86" height="4.2" fill="#4caf50" stroke="#000" stroke-width="0.85"/><line x1="991.5" x2="991.5" y1="676.1" y2="704.6" stroke="#000" stroke-width="1.25"/><rect x="988.57" y="682.9" width="5.86" height="20.3" fill="#4caf50" stroke="#000" stroke-width="0.85"/><line x1="998.5" x2="998.5" y1="665.2" y2="680.8" stroke="#000" stroke-width="1.25"/><rect x="995.57" y="666.7" width="5.86" height="10.3" fill="#4caf50" stroke="#000" stroke-width="0.85"/><line x1="1005.5" x2="1005.5" y1="665.2" y2="712.9" stroke="#000" stroke-width="1.25"/><rect x="1002.13" y="667.3" width="6.74" height="40.2" fill="#000"/><line x1="1013.5" x2="1013.5" y1="689.2" y2="712.9" stroke="#000" stroke-width="1.25"/><rect x="1010.13" y="704.2" width="6.74" height="3.3" fill="#000"/><line x1="1020.5" x2="1020.5" y1="701.1" y2="714.9" stroke="#000" stroke-width="1.25"/><rect x="1017.57" y="710.6" width="5.86" height="1.6" fill="#4caf50" stroke="#000" stroke-width="0.85"/><line x1="1027.5" x2="1027.5" y1="699.2" y2="719.7" stroke="#000" stroke-width="1.25"/><rect x="1024.57" y="707.8" width="5.86" height="1.9" fill="#4caf50" stroke="#000" stroke-width="0.85"/><line x1="1034.5" x2="1034.5" y1="700.1" y2="778.8" stroke="#000" stroke-width="1.25"/><rect x="1031.13" y="705.2" width="6.74" height="61.4" fill="#000"/><line x1="1042.5" x2="1042.5" y1="732.2" y2="786.8" stroke="#000" stroke-width="1.25"/><rect x="1039.57" y="743.9" width="5.86" height="29.2" fill="#4caf50" stroke="#000" stroke-width="0.85"/><line x1="1049.5" x2="1049.5" y1="733.2" y2="757.9" stroke="#000" stroke-width="1.25"/><rect x="1046.13" y="736.3" width="6.74" height="15.2" fill="#000"/><line x1="1056.5" x2="1056.5" y1="753.1" y2="814.4" stroke="#000" stroke-width="1.25"/><rect x="1053.13" y="754.3" width="6.74" height="60.1" fill="#000"/><line x1="1064.5" x2="1064.5" y1="801.1" y2="831.6" stroke="#000" stroke-width="1.25"/><rect x="1061.13" y="807.1" width="6.74" height="16.5" fill="#000"/><line x1="1071.5" x2="1071.5" y1="808.1" y2="845.8" stroke="#000" stroke-width="1.25"/><rect x="1068.13" y="824.2" width="6.74" height="15.4" fill="#000"/><line x1="1078.5" x2="1078.5" y1="840.3" y2="874.7" stroke="#000" stroke-width="1.25"/><rect x="1075.13" y="846.3" width="6.74" height="4.2" fill="#000"/><line x1="1086.5" x2="1086.5" y1="844.1" y2="860.8" stroke="#000" stroke-width="1.25"/><rect x="1083.13" y="851.8" width="6.74" height="1.3" fill="#000"/><line x1="1093.5" x2="1093.5" y1="812.3" y2="853.7" stroke="#000" stroke-width="1.25"/><rect x="1090.57" y="816.9" width="5.86" height="34.3" fill="#4caf50" stroke="#000" stroke-width="0.85"/><line x1="1100.5" x2="1100.5" y1="793.1" y2="816.5" stroke="#000" stroke-width="1.25"/><rect x="1097.57" y="803.8" width="5.86" height="11.3" fill="#4caf50" stroke="#000" stroke-width="0.85"/><line x1="1108.5" x2="1108.5" y1="780.2" y2="809.8" stroke="#000" stroke-width="1.25"/><rect x="1105.57" y="786.7" width="5.86" height="12.4" fill="#4caf50" stroke="#000" stroke-width="0.85"/><line x1="1115.5" x2="1115.5" y1="766.2" y2="785.4" stroke="#000" stroke-width="1.25"/><rect x="1112.57" y="768.7" width="5.86" height="16.3" fill="#4caf50" stroke="#000" stroke-width="0.85"/><line x1="1122.5" x2="1122.5" y1="732.1" y2="770.5" stroke="#000" stroke-width="1.25"/><rect x="1119.57" y="737.9" width="5.86" height="32.2" fill="#4caf50" stroke="#000" stroke-width="0.85"/><line x1="1129.5" x2="1129.5" y1="728.1" y2="814.6" stroke="#000" stroke-width="1.25"/><rect x="1126.13" y="734.3" width="6.74" height="79.4" fill="#000"/><line x1="1137.5" x2="1137.5" y1="794.0" y2="823.6" stroke="#000" stroke-width="1.25"/><rect x="1134.13" y="807.1" width="6.74" height="4.5" fill="#000"/><line x1="1144.5" x2="1144.5" y1="781.2" y2="805.6" stroke="#000" stroke-width="1.25"/><rect x="1141.57" y="796.7" width="5.86" height="4.4" fill="#4caf50" stroke="#000" stroke-width="0.85"/><line x1="1151.5" x2="1151.5" y1="775.1" y2="812.6" stroke="#000" stroke-width="1.25"/><rect x="1148.57" y="783.8" width="5.86" height="15.2" fill="#4caf50" stroke="#000" stroke-width="0.85"/><line x1="1159.5" x2="1159.5" y1="785.3" y2="811.6" stroke="#000" stroke-width="1.25"/><rect x="1156.13" y="789.3" width="6.74" height="12.2" fill="#000"/><line x1="1166.5" x2="1166.5" y1="785.3" y2="802.6" stroke="#000" stroke-width="1.25"/><rect x="1163.57" y="794.0" width="5.86" height="4.1" fill="#4caf50" stroke="#000" stroke-width="0.85"/><line x1="1173.5" x2="1173.5" y1="782.2" y2="804.7" stroke="#000" stroke-width="1.25"/><rect x="1170.57" y="787.7" width="5.86" height="7.2" fill="#4caf50" stroke="#000" stroke-width="0.85"/><line x1="1181.5" x2="1181.5" y1="784.1" y2="810.7" stroke="#000" stroke-width="1.25"/><rect x="1178.13" y="788.2" width="6.74" height="21.5" fill="#000"/><line x1="1188.5" x2="1188.5" y1="793.1" y2="819.7" stroke="#000" stroke-width="1.25"/><rect x="1185.57" y="800.8" width="5.86" height="3.3" fill="#4caf50" stroke="#000" stroke-width="0.85"/><line x1="1195.5" x2="1195.5" y1="767.3" y2="807.8" stroke="#000" stroke-width="1.25"/><rect x="1192.57" y="779.8" width="5.86" height="16.1" fill="#4caf50" stroke="#000" stroke-width="0.85"/><line x1="1203.5" x2="1203.5" y1="750.1" y2="782.7" stroke="#000" stroke-width="1.25"/><rect x="1200.57" y="753.7" width="5.86" height="26.4" fill="#4caf50" stroke="#000" stroke-width="0.85"/><line x1="1210.5" x2="1210.5" y1="719.2" y2="751.6" stroke="#000" stroke-width="1.25"/><rect x="1207.57" y="722.8" width="5.86" height="27.2" fill="#4caf50" stroke="#000" stroke-width="0.85"/><line x1="1217.5" x2="1217.5" y1="718.0" y2="769.6" stroke="#000" stroke-width="1.25"/><rect x="1214.13" y="724.3" width="6.74" height="36.3" fill="#000"/><line x1="1224.5" x2="1224.5" y1="754.2" y2="796.6" stroke="#000" stroke-width="1.25"/><rect x="1221.13" y="764.2" width="6.74" height="23.4" fill="#000"/><line x1="1232.5" x2="1232.5" y1="781.2" y2="798.8" stroke="#000" stroke-width="1.25"/><rect x="1229.13" y="792.1" width="6.74" height="1.5" fill="#000"/><line x1="1239.5" x2="1239.5" y1="787.2" y2="810.7" stroke="#000" stroke-width="1.25"/><rect x="1236.13" y="792.4" width="6.74" height="6.1" fill="#000"/><line x1="1246.5" x2="1246.5" y1="794.3" y2="849.6" stroke="#000" stroke-width="1.25"/><rect x="1243.13" y="797.2" width="6.74" height="8.4" fill="#000"/><line x1="1254.5" x2="1254.5" y1="815.2" y2="850.5" stroke="#000" stroke-width="1.25"/><rect x="1251.57" y="842.8" width="5.86" height="5.1" fill="#4caf50" stroke="#000" stroke-width="0.85"/><line x1="1261.5" x2="1261.5" y1="805.2" y2="844.5" stroke="#000" stroke-width="1.25"/><rect x="1258.57" y="812.8" width="5.86" height="28.3" fill="#4caf50" stroke="#000" stroke-width="0.85"/><line x1="1268.5" x2="1268.5" y1="811.1" y2="829.7" stroke="#000" stroke-width="1.25"/><rect x="1265.13" y="817.1" width="6.74" height="9.7" fill="#000"/><line x1="1276.5" x2="1276.5" y1="819.1" y2="828.7" stroke="#000" stroke-width="1.25"/><rect x="1273.57" y="820.7" width="5.86" height="4.4" fill="#4caf50" stroke="#000" stroke-width="0.85"/><line x1="1283.5" x2="1283.5" y1="803.3" y2="820.7" stroke="#000" stroke-width="1.25"/><rect x="1280.57" y="806.0" width="5.86" height="12.0" fill="#4caf50" stroke="#000" stroke-width="0.85"/><line x1="1290.5" x2="1290.5" y1="804.0" y2="827.7" stroke="#000" stroke-width="1.25"/><rect x="1287.13" y="805.2" width="6.74" height="18.4" fill="#000"/><line x1="1298.5" x2="1298.5" y1="815.2" y2="841.5" stroke="#000" stroke-width="1.25"/><rect x="1295.13" y="819.3" width="6.74" height="15.4" fill="#000"/><line x1="1305.5" x2="1305.5" y1="814.3" y2="836.8" stroke="#000" stroke-width="1.25"/><rect x="1302.57" y="815.9" width="5.86" height="16.2" fill="#4caf50" stroke="#000" stroke-width="0.85"/><line x1="1312.5" x2="1312.5" y1="788.2" y2="818.8" stroke="#000" stroke-width="1.25"/><rect x="1309.57" y="793.8" width="5.86" height="21.3" fill="#4caf50" stroke="#000" stroke-width="0.85"/><line x1="1319.5" x2="1319.5" y1="783.1" y2="807.8" stroke="#000" stroke-width="1.25"/><rect x="1316.13" y="791.2" width="6.74" height="13.3" fill="#000"/><line x1="1327.5" x2="1327.5" y1="797.2" y2="827.8" stroke="#000" stroke-width="1.25"/><rect x="1324.13" y="806.2" width="6.74" height="4.5" fill="#000"/><line x1="1334.5" x2="1334.5" y1="785.3" y2="812.6" stroke="#000" stroke-width="1.25"/><rect x="1331.57" y="796.0" width="5.86" height="14.1" fill="#4caf50" stroke="#000" stroke-width="0.85"/><line x1="1341.5" x2="1341.5" y1="778.2" y2="800.7" stroke="#000" stroke-width="1.25"/><rect x="1338.57" y="790.8" width="5.86" height="6.3" fill="#4caf50" stroke="#000" stroke-width="0.85"/><line x1="1349.5" x2="1349.5" y1="770.2" y2="788.8" stroke="#000" stroke-width="1.25"/><rect x="1346.57" y="775.7" width="5.86" height="8.4" fill="#4caf50" stroke="#000" stroke-width="0.85"/><line x1="1356.5" x2="1356.5" y1="739.1" y2="777.6" stroke="#000" stroke-width="1.25"/><rect x="1353.57" y="756.0" width="5.86" height="17.0" fill="#4caf50" stroke="#000" stroke-width="0.85"/><line x1="1363.5" x2="1363.5" y1="748.3" y2="787.5" stroke="#000" stroke-width="1.25"/><rect x="1360.13" y="754.4" width="6.74" height="31.2" fill="#000"/><line x1="1371.5" x2="1371.5" y1="773.4" y2="789.7" stroke="#000" stroke-width="1.25"/><rect x="1368.13" y="781.5" width="6.74" height="1.3" fill="#000"/><line x1="1378.5" x2="1378.5" y1="749.4" y2="778.5" stroke="#000" stroke-width="1.25"/><rect x="1375.57" y="753.9" width="5.86" height="19.1" fill="#4caf50" stroke="#000" stroke-width="0.85"/><line x1="1385.5" x2="1385.5" y1="721.4" y2="750.5" stroke="#000" stroke-width="1.25"/><rect x="1382.57" y="726.9" width="5.86" height="22.1" fill="#4caf50" stroke="#000" stroke-width="0.85"/><line x1="1392.5" x2="1392.5" y1="720.3" y2="743.8" stroke="#000" stroke-width="1.25"/><rect x="1389.57" y="728.7" width="5.86" height="1.6" fill="#4caf50" stroke="#000" stroke-width="0.85"/><line x1="1400.5" x2="1400.5" y1="717.2" y2="754.7" stroke="#000" stroke-width="1.25"/><rect x="1397.57" y="720.9" width="5.86" height="13.9" fill="#4caf50" stroke="#000" stroke-width="0.85"/><line x1="1407.5" x2="1407.5" y1="707.2" y2="721.6" stroke="#000" stroke-width="1.25"/><rect x="1404.57" y="710.8" width="5.86" height="9.3" fill="#4caf50" stroke="#000" stroke-width="0.85"/><line x1="1414.5" x2="1414.5" y1="713.0" y2="733.8" stroke="#000" stroke-width="1.25"/><rect x="1411.13" y="713.6" width="6.74" height="1.3" fill="#000"/><line x1="1422.5" x2="1422.5" y1="691.2" y2="717.2" stroke="#000" stroke-width="1.25"/><rect x="1419.57" y="705.1" width="5.86" height="11.7" fill="#4caf50" stroke="#000" stroke-width="0.85"/><line x1="1429.5" x2="1429.5" y1="704.3" y2="741.6" stroke="#000" stroke-width="1.25"/><rect x="1426.13" y="704.3" width="6.74" height="32.2" fill="#000"/><line x1="1436.5" x2="1436.5" y1="708.3" y2="736.8" stroke="#000" stroke-width="1.25"/><rect x="1433.57" y="713.8" width="5.86" height="19.1" fill="#4caf50" stroke="#000" stroke-width="0.85"/><line x1="1444.5" x2="1444.5" y1="704.3" y2="717.8" stroke="#000" stroke-width="1.25"/><rect x="1441.13" y="710.2" width="6.74" height="1.3" fill="#000"/><line x1="1451.5" x2="1451.5" y1="663.2" y2="709.4" stroke="#000" stroke-width="1.25"/><rect x="1448.57" y="669.7" width="5.86" height="39.3" fill="#4caf50" stroke="#000" stroke-width="0.85"/><line x1="1458.5" x2="1458.5" y1="655.2" y2="684.8" stroke="#000" stroke-width="1.25"/><rect x="1455.13" y="664.2" width="6.74" height="13.2" fill="#000"/><line x1="1466.5" x2="1466.5" y1="648.2" y2="703.8" stroke="#000" stroke-width="1.25"/><rect x="1463.57" y="660.8" width="5.86" height="7.1" fill="#4caf50" stroke="#000" stroke-width="0.85"/><line x1="1473.5" x2="1473.5" y1="643.3" y2="675.8" stroke="#000" stroke-width="1.25"/><rect x="1470.57" y="644.7" width="5.86" height="20.4" fill="#4caf50" stroke="#000" stroke-width="0.85"/><line x1="1480.5" x2="1480.5" y1="620.2" y2="648.5" stroke="#000" stroke-width="1.25"/><rect x="1477.57" y="631.9" width="5.86" height="13.7" fill="#4caf50" stroke="#000" stroke-width="0.85"/><line x1="1487.5" x2="1487.5" y1="630.2" y2="660.7" stroke="#000" stroke-width="1.25"/><rect x="1484.13" y="637.5" width="6.74" height="7.1" fill="#000"/><line x1="1495.5" x2="1495.5" y1="616.3" y2="643.7" stroke="#000" stroke-width="1.25"/><rect x="1492.57" y="635.7" width="5.86" height="5.3" fill="#4caf50" stroke="#000" stroke-width="0.85"/><line x1="1502.5" x2="1502.5" y1="593.9" y2="640.7" stroke="#000" stroke-width="1.25"/><rect x="1499.57" y="597.8" width="5.86" height="39.3" fill="#4caf50" stroke="#000" stroke-width="0.85"/><line x1="1509.5" x2="1509.5" y1="569.2" y2="618.9" stroke="#000" stroke-width="1.25"/><rect x="1506.13" y="595.1" width="6.74" height="3.6" fill="#000"/><line x1="1517.5" x2="1517.5" y1="595.1" y2="635.7" stroke="#000" stroke-width="1.25"/><rect x="1514.13" y="602.2" width="6.74" height="1.3" fill="#000"/><line x1="1524.5" x2="1524.5" y1="577.1" y2="603.8" stroke="#000" stroke-width="1.25"/><rect x="1521.57" y="588.8" width="5.86" height="13.1" fill="#4caf50" stroke="#000" stroke-width="0.85"/><line x1="1531.5" x2="1531.5" y1="573.0" y2="632.7" stroke="#000" stroke-width="1.25"/><rect x="1528.13" y="579.2" width="6.74" height="45.4" fill="#000"/><line x1="1539.5" x2="1539.5" y1="579.2" y2="634.7" stroke="#000" stroke-width="1.25"/><rect x="1536.57" y="585.9" width="5.86" height="43.2" fill="#4caf50" stroke="#000" stroke-width="0.85"/><line x1="1546.5" x2="1546.5" y1="573.0" y2="597.8" stroke="#000" stroke-width="1.25"/><rect x="1543.13" y="581.1" width="6.74" height="15.7" fill="#000"/><line x1="1553.5" x2="1553.5" y1="565.3" y2="592.9" stroke="#000" stroke-width="1.25"/><rect x="1550.57" y="579.8" width="5.86" height="5.3" fill="#4caf50" stroke="#000" stroke-width="0.85"/><line x1="1561.5" x2="1561.5" y1="573.0" y2="600.9" stroke="#000" stroke-width="1.25"/><rect x="1558.13" y="580.1" width="6.74" height="2.5" fill="#000"/><line x1="1568.5" x2="1568.5" y1="565.0" y2="594.8" stroke="#000" stroke-width="1.25"/><rect x="1565.57" y="574.7" width="5.86" height="9.2" fill="#4caf50" stroke="#000" stroke-width="0.85"/><line x1="1575.5" x2="1575.5" y1="568.1" y2="626.7" stroke="#000" stroke-width="1.25"/><rect x="1572.13" y="569.2" width="6.74" height="41.4" fill="#000"/><line x1="1582.5" x2="1582.5" y1="591.0" y2="621.8" stroke="#000" stroke-width="1.25"/><rect x="1579.13" y="600.2" width="6.74" height="1.4" fill="#000"/><line x1="1590.5" x2="1590.5" y1="596.1" y2="641.7" stroke="#000" stroke-width="1.25"/><rect x="1587.13" y="599.1" width="6.74" height="29.5" fill="#000"/><line x1="1597.5" x2="1597.5" y1="628.0" y2="669.7" stroke="#000" stroke-width="1.25"/><rect x="1594.13" y="634.3" width="6.74" height="33.1" fill="#000"/><line x1="1604.5" x2="1604.5" y1="620.1" y2="651.7" stroke="#000" stroke-width="1.25"/><rect x="1601.57" y="624.8" width="5.86" height="23.2" fill="#4caf50" stroke="#000" stroke-width="0.85"/><line x1="1612.5" x2="1612.5" y1="593.2" y2="630.8" stroke="#000" stroke-width="1.25"/><rect x="1609.57" y="608.7" width="5.86" height="12.3" fill="#4caf50" stroke="#000" stroke-width="0.85"/><line x1="1619.5" x2="1619.5" y1="591.0" y2="621.8" stroke="#000" stroke-width="1.25"/><rect x="1616.13" y="601.3" width="6.74" height="3.2" fill="#000"/><line x1="1626.5" x2="1626.5" y1="596.1" y2="626.7" stroke="#000" stroke-width="1.25"/><rect x="1623.13" y="601.3" width="6.74" height="2.5" fill="#000"/><line x1="1634.5" x2="1634.5" y1="593.2" y2="620.5" stroke="#000" stroke-width="1.25"/><rect x="1631.13" y="609.2" width="6.74" height="4.5" fill="#000"/><line x1="1641.5" x2="1641.5" y1="604.1" y2="636.8" stroke="#000" stroke-width="1.25"/><rect x="1638.13" y="609.2" width="6.74" height="16.5" fill="#000"/><line x1="1648.5" x2="1648.5" y1="601.0" y2="638.5" stroke="#000" stroke-width="1.25"/><rect x="1645.57" y="608.7" width="5.86" height="21.4" fill="#4caf50" stroke="#000" stroke-width="0.85"/><line x1="1656.5" x2="1656.5" y1="585.2" y2="615.8" stroke="#000" stroke-width="1.25"/><rect x="1653.57" y="587.8" width="5.86" height="19.2" fill="#4caf50" stroke="#000" stroke-width="0.85"/><line x1="1663.5" x2="1663.5" y1="543.2" y2="590.3" stroke="#000" stroke-width="1.25"/><rect x="1660.57" y="551.8" width="5.86" height="38.1" fill="#4caf50" stroke="#000" stroke-width="0.85"/><line x1="1670.5" x2="1670.5" y1="530.2" y2="552.7" stroke="#000" stroke-width="1.25"/><rect x="1667.13" y="542.9" width="6.74" height="1.3" fill="#000"/><line x1="1677.5" x2="1677.5" y1="535.1" y2="550.8" stroke="#000" stroke-width="1.25"/><rect x="1674.57" y="540.0" width="5.86" height="8.2" fill="#4caf50" stroke="#000" stroke-width="0.85"/><line x1="1685.5" x2="1685.5" y1="506.2" y2="536.7" stroke="#000" stroke-width="1.25"/><rect x="1682.57" y="511.8" width="5.86" height="24.5" fill="#4caf50" stroke="#000" stroke-width="0.85"/><line x1="1692.5" x2="1692.5" y1="494.0" y2="518.8" stroke="#000" stroke-width="1.25"/><rect x="1689.13" y="509.8" width="6.74" height="1.3" fill="#000"/><line x1="1699.5" x2="1699.5" y1="491.2" y2="516.8" stroke="#000" stroke-width="1.25"/><rect x="1696.13" y="497.2" width="6.74" height="12.5" fill="#000"/><line x1="1707.5" x2="1707.5" y1="499.2" y2="540.6" stroke="#000" stroke-width="1.25"/><rect x="1704.13" y="501.4" width="6.74" height="26.3" fill="#000"/><line x1="1714.5" x2="1714.5" y1="513.0" y2="537.7" stroke="#000" stroke-width="1.25"/><rect x="1711.13" y="522.3" width="6.74" height="9.4" fill="#000"/><line x1="1721.5" x2="1721.5" y1="510.1" y2="534.7" stroke="#000" stroke-width="1.25"/><rect x="1718.57" y="523.7" width="5.86" height="6.5" fill="#4caf50" stroke="#000" stroke-width="0.85"/><line x1="1729.5" x2="1729.5" y1="515.2" y2="529.7" stroke="#000" stroke-width="1.25"/><rect x="1726.13" y="523.2" width="6.74" height="3.6" fill="#000"/><line x1="1736.5" x2="1736.5" y1="486.1" y2="525.8" stroke="#000" stroke-width="1.25"/><rect x="1733.57" y="495.7" width="5.86" height="27.5" fill="#4caf50" stroke="#000" stroke-width="0.85"/><line x1="1743.5" x2="1743.5" y1="468.1" y2="489.5" stroke="#000" stroke-width="1.25"/><rect x="1740.57" y="476.7" width="5.86" height="11.4" fill="#4caf50" stroke="#000" stroke-width="0.85"/><line x1="1750.5" x2="1750.5" y1="437.2" y2="476.6" stroke="#000" stroke-width="1.25"/><rect x="1747.57" y="447.7" width="5.86" height="24.4" fill="#4caf50" stroke="#000" stroke-width="0.85"/><line x1="1758.5" x2="1758.5" y1="425.2" y2="462.8" stroke="#000" stroke-width="1.25"/><rect x="1755.13" y="441.3" width="6.74" height="9.2" fill="#000"/><line x1="1765.5" x2="1765.5" y1="405.1" y2="458.0" stroke="#000" stroke-width="1.25"/><rect x="1762.57" y="434.9" width="5.86" height="14.1" fill="#4caf50" stroke="#000" stroke-width="0.85"/><line x1="1772.5" x2="1772.5" y1="409.2" y2="508.7" stroke="#000" stroke-width="1.25"/><rect x="1769.13" y="409.2" width="6.74" height="61.6" fill="#000"/><line x1="1780.5" x2="1780.5" y1="439.1" y2="541.8" stroke="#000" stroke-width="1.25"/><rect x="1777.13" y="457.2" width="6.74" height="83.6" fill="#000"/><line x1="1787.5" x2="1787.5" y1="500.1" y2="591.9" stroke="#000" stroke-width="1.25"/><rect x="1784.13" y="524.1" width="6.74" height="66.5" fill="#000"/><line x1="1794.5" x2="1794.5" y1="538.2" y2="576.5" stroke="#000" stroke-width="1.25"/><rect x="1791.13" y="570.3" width="6.74" height="6.2" fill="#000"/><line x1="1802.5" x2="1802.5" y1="472.1" y2="581.6" stroke="#000" stroke-width="1.25"/><rect x="1799.57" y="504.6" width="5.86" height="65.6" fill="#4caf50" stroke="#000" stroke-width="0.85"/><line x1="1809.5" x2="1809.5" y1="410.2" y2="498.5" stroke="#000" stroke-width="1.25"/><rect x="1806.57" y="425.6" width="5.86" height="62.5" fill="#4caf50" stroke="#000" stroke-width="0.85"/><line x1="1816.5" x2="1816.5" y1="355.2" y2="411.5" stroke="#000" stroke-width="1.25"/><rect x="1813.57" y="370.8" width="5.86" height="40.3" fill="#4caf50" stroke="#000" stroke-width="0.85"/><line x1="1824.5" x2="1824.5" y1="357.2" y2="398.6" stroke="#000" stroke-width="1.25"/><rect x="1821.13" y="369.4" width="6.74" height="16.0" fill="#000"/><line x1="1831.5" x2="1831.5" y1="365.2" y2="385.2" stroke="#000" stroke-width="1.25"/><rect x="1828.57" y="374.9" width="5.86" height="9.9" fill="#4caf50" stroke="#000" stroke-width="0.85"/><line x1="1838.5" x2="1838.5" y1="278.3" y2="369.7" stroke="#000" stroke-width="1.25"/><rect x="1835.57" y="288.7" width="5.86" height="78.3" fill="#4caf50" stroke="#000" stroke-width="0.85"/><line x1="1845.5" x2="1845.5" y1="267.1" y2="327.7" stroke="#000" stroke-width="1.25"/><rect x="1842.13" y="279.1" width="6.74" height="24.6" fill="#000"/><line x1="1853.5" x2="1853.5" y1="210.2" y2="289.6" stroke="#000" stroke-width="1.25"/><rect x="1850.57" y="224.8" width="5.86" height="62.2" fill="#4caf50" stroke="#000" stroke-width="0.85"/><line x1="1860.5" x2="1860.5" y1="156.1" y2="261.6" stroke="#000" stroke-width="1.25"/><rect x="1857.13" y="216.2" width="6.74" height="13.4" fill="#000"/><line x1="1867.5" x2="1867.5" y1="248.3" y2="348.8" stroke="#000" stroke-width="1.25"/><rect x="1864.13" y="271.2" width="6.74" height="59.5" fill="#000"/><line x1="1875.5" x2="1875.5" y1="263.3" y2="324.5" stroke="#000" stroke-width="1.25"/><rect x="1872.57" y="286.8" width="5.86" height="37.3" fill="#4caf50" stroke="#000" stroke-width="0.85"/><line x1="1882.5" x2="1882.5" y1="257.1" y2="345.6" stroke="#000" stroke-width="1.25"/><rect x="1879.13" y="275.1" width="6.74" height="52.4" fill="#000"/><line x1="1889.5" x2="1889.5" y1="274.2" y2="342.6" stroke="#000" stroke-width="1.25"/><rect x="1886.57" y="287.8" width="5.86" height="8.2" fill="#4caf50" stroke="#000" stroke-width="0.85"/><line x1="1897.5" x2="1897.5" y1="278.1" y2="317.6" stroke="#000" stroke-width="1.25"/><rect x="1894.13" y="281.3" width="6.74" height="17.3" fill="#000"/><line x1="1904.5" x2="1904.5" y1="295.1" y2="344.7" stroke="#000" stroke-width="1.25"/><rect x="1901.13" y="306.3" width="6.74" height="4.2" fill="#000"/><line x1="1911.5" x2="1911.5" y1="324.9" y2="398.6" stroke="#000" stroke-width="1.25"/><rect x="1908.13" y="326.2" width="6.74" height="62.4" fill="#000"/><line x1="1919.5" x2="1919.5" y1="344.3" y2="382.6" stroke="#000" stroke-width="1.25"/><rect x="1916.13" y="368.5" width="6.74" height="3.0" fill="#000"/><line x1="1926.5" x2="1926.5" y1="288.3" y2="371.5" stroke="#000" stroke-width="1.25"/><rect x="1923.57" y="307.7" width="5.86" height="60.4" fill="#4caf50" stroke="#000" stroke-width="0.85"/><line x1="1933.5" x2="1933.5" y1="209.3" y2="299.6" stroke="#000" stroke-width="1.25"/><rect x="1930.57" y="226.8" width="5.86" height="62.2" fill="#4caf50" stroke="#000" stroke-width="0.85"/><line x1="1940.5" x2="1940.5" y1="206.1" y2="270.7" stroke="#000" stroke-width="1.25"/><rect x="1937.13" y="206.4" width="6.74" height="45.1" fill="#000"/><line x1="1948.5" x2="1948.5" y1="227.3" y2="330.7" stroke="#000" stroke-width="1.25"/><rect x="1945.13" y="266.2" width="6.74" height="55.3" fill="#000"/><line x1="1955.5" x2="1955.5" y1="283.2" y2="342.6" stroke="#000" stroke-width="1.25"/><rect x="1952.57" y="290.7" width="5.86" height="26.4" fill="#4caf50" stroke="#000" stroke-width="0.85"/><line x1="1962.5" x2="1962.5" y1="329.3" y2="396.6" stroke="#000" stroke-width="1.25"/><rect x="1959.13" y="341.4" width="6.74" height="43.1" fill="#000"/><line x1="1970.5" x2="1970.5" y1="349.2" y2="389.6" stroke="#000" stroke-width="1.25"/><rect x="1967.57" y="368.9" width="5.86" height="4.2" fill="#4caf50" stroke="#000" stroke-width="0.85"/><line x1="1977.5" x2="1977.5" y1="357.2" y2="429.7" stroke="#000" stroke-width="1.25"/><rect x="1974.13" y="363.3" width="6.74" height="53.3" fill="#000"/><line x1="1984.5" x2="1984.5" y1="371.3" y2="467.6" stroke="#000" stroke-width="1.25"/><rect x="1981.57" y="385.8" width="5.86" height="36.2" fill="#4caf50" stroke="#000" stroke-width="0.85"/><line x1="1992.5" x2="1992.5" y1="361.3" y2="441.7" stroke="#000" stroke-width="1.25"/><rect x="1989.13" y="371.3" width="6.74" height="46.2" fill="#000"/><line x1="1999.5" x2="1999.5" y1="364.2" y2="398.6" stroke="#000" stroke-width="1.25"/><rect x="1996.57" y="380.0" width="5.86" height="10.1" fill="#4caf50" stroke="#000" stroke-width="0.85"/><line x1="2006.5" x2="2006.5" y1="327.2" y2="399.5" stroke="#000" stroke-width="1.25"/><rect x="2003.57" y="338.7" width="5.86" height="41.4" fill="#4caf50" stroke="#000" stroke-width="0.85"/><line x1="2014.5" x2="2014.5" y1="303.0" y2="335.8" stroke="#000" stroke-width="1.25"/><rect x="2011.57" y="315.9" width="5.86" height="15.2" fill="#4caf50" stroke="#000" stroke-width="0.85"/><line x1="2021.5" x2="2021.5" y1="288.2" y2="342.8" stroke="#000" stroke-width="1.25"/><rect x="2018.13" y="311.1" width="6.74" height="19.3" fill="#000"/><line x1="2028.5" x2="2028.5" y1="272.2" y2="336.8" stroke="#000" stroke-width="1.25"/><rect x="2025.57" y="272.8" width="5.86" height="55.9" fill="#4caf50" stroke="#000" stroke-width="0.85"/><line x1="2035.5" x2="2035.5" y1="280.2" y2="338.7" stroke="#000" stroke-width="1.25"/><rect x="2032.13" y="281.4" width="6.74" height="44.1" fill="#000"/><line x1="2043.5" x2="2043.5" y1="306.2" y2="346.7" stroke="#000" stroke-width="1.25"/><rect x="2040.13" y="325.1" width="6.74" height="5.3" fill="#000"/><line x1="2050.5" x2="2050.5" y1="302.1" y2="372.6" stroke="#000" stroke-width="1.25"/><rect x="2047.57" y="312.8" width="5.86" height="25.1" fill="#4caf50" stroke="#000" stroke-width="0.85"/><line x1="2057.5" x2="2057.5" y1="310.1" y2="351.6" stroke="#000" stroke-width="1.25"/><rect x="2054.13" y="313.3" width="6.74" height="22.2" fill="#000"/><line x1="2065.5" x2="2065.5" y1="260.2" y2="331.6" stroke="#000" stroke-width="1.25"/><rect x="2062.57" y="269.8" width="5.86" height="59.1" fill="#4caf50" stroke="#000" stroke-width="0.85"/><line x1="2072.5" x2="2072.5" y1="252.3" y2="300.7" stroke="#000" stroke-width="1.25"/><rect x="2069.13" y="262.3" width="6.74" height="23.1" fill="#000"/><line x1="2079.5" x2="2079.5" y1="259.1" y2="293.8" stroke="#000" stroke-width="1.25"/><rect x="2076.57" y="267.8" width="5.86" height="17.2" fill="#4caf50" stroke="#000" stroke-width="0.85"/><line x1="2087.5" x2="2087.5" y1="244.2" y2="296.6" stroke="#000" stroke-width="1.25"/><rect x="2084.13" y="268.3" width="6.74" height="19.0" fill="#000"/><line x1="2094.5" x2="2094.5" y1="268.1" y2="323.6" stroke="#000" stroke-width="1.25"/><rect x="2091.13" y="285.3" width="6.74" height="25.2" fill="#000"/><line x1="2101.5" x2="2101.5" y1="300.2" y2="336.8" stroke="#000" stroke-width="1.25"/><rect x="2098.57" y="303.8" width="5.86" height="17.2" fill="#4caf50" stroke="#000" stroke-width="0.85"/><line x1="2108.5" x2="2108.5" y1="291.2" y2="330.6" stroke="#000" stroke-width="1.25"/><rect x="2105.13" y="310.3" width="6.74" height="3.2" fill="#000"/><line x1="2116.5" x2="2116.5" y1="281.2" y2="318.7" stroke="#000" stroke-width="1.25"/><rect x="2113.13" y="311.7" width="6.74" height="1.3" fill="#000"/><line x1="2123.5" x2="2123.5" y1="251.3" y2="299.8" stroke="#000" stroke-width="1.25"/><rect x="2120.57" y="265.8" width="5.86" height="19.2" fill="#4caf50" stroke="#000" stroke-width="0.85"/><line x1="2130.5" x2="2130.5" y1="212.2" y2="266.7" stroke="#000" stroke-width="1.25"/><rect x="2127.57" y="224.7" width="5.86" height="36.2" fill="#4caf50" stroke="#000" stroke-width="0.85"/><line x1="2138.5" x2="2138.5" y1="205.2" y2="265.8" stroke="#000" stroke-width="1.25"/><rect x="2135.13" y="208.2" width="6.74" height="45.1" fill="#000"/><line x1="2145.5" x2="2145.5" y1="248.2" y2="278.6" stroke="#000" stroke-width="1.25"/><rect x="2142.57" y="261.6" width="5.86" height="1.6" fill="#4caf50" stroke="#000" stroke-width="0.85"/><line x1="2152.5" x2="2152.5" y1="251.3" y2="282.7" stroke="#000" stroke-width="1.25"/><rect x="2149.13" y="259.7" width="6.74" height="1.3" fill="#000"/><line x1="2160.5" x2="2160.5" y1="263.2" y2="301.7" stroke="#000" stroke-width="1.25"/><rect x="2157.13" y="277.3" width="6.74" height="1.3" fill="#000"/><line x1="2167.5" x2="2167.5" y1="256.1" y2="297.6" stroke="#000" stroke-width="1.25"/><rect x="2164.13" y="266.4" width="6.74" height="5.1" fill="#000"/><line x1="2174.5" x2="2174.5" y1="279.3" y2="340.6" stroke="#000" stroke-width="1.25"/><rect x="2171.13" y="280.3" width="6.74" height="40.3" fill="#000"/><line x1="2182.5" x2="2182.5" y1="306.2" y2="326.8" stroke="#000" stroke-width="1.25"/><rect x="2179.57" y="313.7" width="5.86" height="3.4" fill="#4caf50" stroke="#000" stroke-width="0.85"/><line x1="2189.5" x2="2189.5" y1="296.2" y2="329.7" stroke="#000" stroke-width="1.25"/><rect x="2186.13" y="308.8" width="6.74" height="1.3" fill="#000"/><line x1="2196.5" x2="2196.5" y1="314.2" y2="374.7" stroke="#000" stroke-width="1.25"/><rect x="2193.13" y="314.2" width="6.74" height="44.4" fill="#000"/><line x1="2203.5" x2="2203.5" y1="330.2" y2="387.8" stroke="#000" stroke-width="1.25"/><rect x="2200.57" y="342.8" width="5.86" height="17.2" fill="#4caf50" stroke="#000" stroke-width="0.85"/><line x1="2211.5" x2="2211.5" y1="291.2" y2="336.8" stroke="#000" stroke-width="1.25"/><rect x="2208.57" y="307.6" width="5.86" height="27.5" fill="#4caf50" stroke="#000" stroke-width="0.85"/><line x1="2218.5" x2="2218.5" y1="290.2" y2="317.8" stroke="#000" stroke-width="1.25"/><rect x="2215.57" y="299.8" width="5.86" height="7.0" fill="#4caf50" stroke="#000" stroke-width="0.85"/><line x1="2225.5" x2="2225.5" y1="286.3" y2="329.7" stroke="#000" stroke-width="1.25"/><rect x="2222.13" y="292.4" width="6.74" height="21.3" fill="#000"/><line x1="2233.5" x2="2233.5" y1="305.2" y2="343.5" stroke="#000" stroke-width="1.25"/><rect x="2230.13" y="312.3" width="6.74" height="1.4" fill="#000"/><line x1="2240.5" x2="2240.5" y1="303.3" y2="350.5" stroke="#000" stroke-width="1.25"/><rect x="2237.13" y="308.1" width="6.74" height="26.4" fill="#000"/><line x1="2247.5" x2="2247.5" y1="327.2" y2="355.7" stroke="#000" stroke-width="1.25"/><rect x="2244.57" y="331.9" width="5.86" height="7.1" fill="#4caf50" stroke="#000" stroke-width="0.85"/><line x1="2255.5" x2="2255.5" y1="316.2" y2="331.6" stroke="#000" stroke-width="1.25"/><rect x="2252.57" y="327.8" width="5.86" height="2.2" fill="#4caf50" stroke="#000" stroke-width="0.85"/><line x1="2262.5" x2="2262.5" y1="282.2" y2="321.4" stroke="#000" stroke-width="1.25"/><rect x="2259.57" y="296.7" width="5.86" height="24.3" fill="#4caf50" stroke="#000" stroke-width="0.85"/><line x1="2269.5" x2="2269.5" y1="275.1" y2="308.8" stroke="#000" stroke-width="1.25"/><rect x="2266.13" y="286.3" width="6.74" height="14.1" fill="#000"/><line x1="2277.5" x2="2277.5" y1="287.2" y2="325.7" stroke="#000" stroke-width="1.25"/><rect x="2274.13" y="306.2" width="6.74" height="12.2" fill="#000"/><line x1="2284.5" x2="2284.5" y1="278.2" y2="326.8" stroke="#000" stroke-width="1.25"/><rect x="2281.57" y="300.8" width="5.86" height="22.4" fill="#4caf50" stroke="#000" stroke-width="0.85"/><line x1="2291.5" x2="2291.5" y1="301.1" y2="335.8" stroke="#000" stroke-width="1.25"/><rect x="2288.13" y="303.3" width="6.74" height="8.3" fill="#000"/><line x1="2298.5" x2="2298.5" y1="293.1" y2="317.8" stroke="#000" stroke-width="1.25"/><rect x="2295.57" y="301.9" width="5.86" height="7.1" fill="#4caf50" stroke="#000" stroke-width="0.85"/><line x1="2306.5" x2="2306.5" y1="253.2" y2="305.6" stroke="#000" stroke-width="1.25"/><rect x="2303.57" y="263.0" width="5.86" height="40.0" fill="#4caf50" stroke="#000" stroke-width="0.85"/><line x1="2313.5" x2="2313.5" y1="228.1" y2="270.6" stroke="#000" stroke-width="1.25"/><rect x="2310.57" y="231.8" width="5.86" height="26.1" fill="#4caf50" stroke="#000" stroke-width="0.85"/><line x1="2320.5" x2="2320.5" y1="225.1" y2="273.7" stroke="#000" stroke-width="1.25"/><rect x="2317.13" y="231.4" width="6.74" height="38.2" fill="#000"/><line x1="2328.5" x2="2328.5" y1="266.2" y2="302.8" stroke="#000" stroke-width="1.25"/><rect x="2325.13" y="268.3" width="6.74" height="20.3" fill="#000"/><line x1="2335.5" x2="2335.5" y1="286.1" y2="326.8" stroke="#000" stroke-width="1.25"/><rect x="2332.13" y="289.3" width="6.74" height="30.4" fill="#000"/><line x1="2342.5" x2="2342.5" y1="311.1" y2="347.7" stroke="#000" stroke-width="1.25"/><rect x="2339.13" y="331.3" width="6.74" height="9.3" fill="#000"/><line x1="2350.5" x2="2350.5" y1="322.3" y2="342.6" stroke="#000" stroke-width="1.25"/><rect x="2347.57" y="328.8" width="5.86" height="8.2" fill="#4caf50" stroke="#000" stroke-width="0.85"/><line x1="2357.5" x2="2357.5" y1="322.3" y2="377.7" stroke="#000" stroke-width="1.25"/><rect x="2354.13" y="327.4" width="6.74" height="24.2" fill="#000"/><line x1="2364.5" x2="2364.5" y1="340.3" y2="373.6" stroke="#000" stroke-width="1.25"/><rect x="2361.57" y="355.8" width="5.86" height="16.2" fill="#4caf50" stroke="#000" stroke-width="0.85"/><line x1="2372.5" x2="2372.5" y1="299.2" y2="368.5" stroke="#000" stroke-width="1.25"/><rect x="2369.57" y="313.9" width="5.86" height="45.2" fill="#4caf50" stroke="#000" stroke-width="0.85"/><line x1="2379.5" x2="2379.5" y1="281.2" y2="314.6" stroke="#000" stroke-width="1.25"/><rect x="2376.57" y="292.8" width="5.86" height="7.0" fill="#4caf50" stroke="#000" stroke-width="0.85"/><line x1="2386.5" x2="2386.5" y1="277.3" y2="309.7" stroke="#000" stroke-width="1.25"/><rect x="2383.57" y="285.8" width="5.86" height="4.4" fill="#4caf50" stroke="#000" stroke-width="0.85"/><line x1="2393.5" x2="2393.5" y1="280.3" y2="303.7" stroke="#000" stroke-width="1.25"/><rect x="2390.13" y="285.3" width="6.74" height="1.3" fill="#000"/><line x1="2401.5" x2="2401.5" y1="245.2" y2="288.6" stroke="#000" stroke-width="1.25"/><rect x="2398.57" y="270.9" width="5.86" height="16.3" fill="#4caf50" stroke="#000" stroke-width="0.85"/><line x1="2408.5" x2="2408.5" y1="205.2" y2="276.7" stroke="#000" stroke-width="1.25"/><rect x="2405.57" y="239.8" width="5.86" height="2.2" fill="#4caf50" stroke="#000" stroke-width="0.85"/><line x1="2415.5" x2="2415.5" y1="259.3" y2="318.7" stroke="#000" stroke-width="1.25"/><rect x="2412.13" y="266.4" width="6.74" height="43.3" fill="#000"/><line x1="2423.5" x2="2423.5" y1="304.0" y2="329.7" stroke="#000" stroke-width="1.25"/><rect x="2420.57" y="314.7" width="5.86" height="3.3" fill="#4caf50" stroke="#000" stroke-width="0.85"/><line x1="2430.5" x2="2430.5" y1="295.3" y2="318.7" stroke="#000" stroke-width="1.25"/><rect x="2427.57" y="306.9" width="5.86" height="6.0" fill="#4caf50" stroke="#000" stroke-width="0.85"/><line x1="2437.5" x2="2437.5" y1="294.3" y2="332.5" stroke="#000" stroke-width="1.25"/><rect x="2434.13" y="307.2" width="6.74" height="20.5" fill="#000"/><line x1="2445.5" x2="2445.5" y1="317.1" y2="330.6" stroke="#000" stroke-width="1.25"/><rect x="2442.13" y="326.9" width="6.74" height="1.3" fill="#000"/><line x1="2452.5" x2="2452.5" y1="310.3" y2="338.7" stroke="#000" stroke-width="1.25"/><rect x="2449.57" y="319.8" width="5.86" height="7.2" fill="#4caf50" stroke="#000" stroke-width="0.85"/></g>
<g fill="none" stroke="#2962ff" stroke-width="3.3" stroke-linecap="round" stroke-linejoin="round"><path d="M1275.5 708 L1789 245.5"/><path d="M1762 244 L1789 245.5 L1787.2 271.4"/></g>
<g fill="none" stroke="#ff9800" stroke-width="3.5" stroke-linecap="round" stroke-linejoin="round"><path d="M1275 1203 L1796 1383"/><path d="M1784 1360 L1796 1383 L1772 1393"/></g>
<path d="M2452.6 1323.7 L2462 1312.5 Q2463 1311.2 2465 1311.2 L2529 1311.2 Q2532 1311.2 2532 1314.2 L2532 1333.8 Q2532 1336.8 2529 1336.8 L2465 1336.8 Q2463 1336.8 2462 1335.5 Z" fill="#7c7e8a"/>
<rect x="119" y="56" width="98" height="88.6" rx="6.5" fill="#fff" stroke="#eff0f3" stroke-width="1.3"/>
<g fill="#131313"><path d="M21.4 1760.9 H42.9 V1787.4 H32.2 V1771.2 H21.4 Z"/><circle cx="52.35" cy="1765.8" r="5.4"/><path d="M63.8 1760.9 H75.5 L65.1 1787.4 H52.8 Z"/></g>
</svg>
<div class="t" style="left:18.50px;top:18.42px;font-size:22.30px;color:#17181c;font-family:'Liberation Sans',sans-serif;letter-spacing:0.314px;-webkit-text-stroke:0.3px #17181c;">CandelaCharts created with TradingView.com, Aug 18, 2025 06:56 UTC-4</div>
<div class="t" style="left:237.30px;top:66.67px;font-size:22.00px;color:#b4b7c1;font-family:'Liberation Sans',sans-serif;letter-spacing:-0.186px;">Gold Futures · 1D · COMEX</div>
<div class="t" style="left:522.10px;top:66.67px;font-size:22.00px;color:#b4b7c1;font-family:'Liberation Sans',sans-serif;">O</div>
<div class="t" style="left:539.90px;top:66.67px;font-size:22.00px;color:#131722;font-family:'Liberation Sans',sans-serif;letter-spacing:0.300px;-webkit-text-stroke:0.3px #131722;">3,382.4</div>
<div class="t" style="left:629.80px;top:66.67px;font-size:22.00px;color:#b4b7c1;font-family:'Liberation Sans',sans-serif;">H</div>
<div class="t" style="left:646.00px;top:66.67px;font-size:22.00px;color:#131722;font-family:'Liberation Sans',sans-serif;letter-spacing:0.300px;-webkit-text-stroke:0.3px #131722;">3,403.6</div>
<div class="t" style="left:735.70px;top:66.67px;font-size:22.00px;color:#b4b7c1;font-family:'Liberation Sans',sans-serif;">L</div>
<div class="t" style="left:748.30px;top:66.67px;font-size:22.00px;color:#131722;font-family:'Liberation Sans',sans-serif;letter-spacing:0.300px;-webkit-text-stroke:0.3px #131722;">3,368.0</div>
<div class="t" style="left:837.80px;top:66.67px;font-size:22.00px;color:#b4b7c1;font-family:'Liberation Sans',sans-serif;">C</div>
<div class="t" style="left:854.40px;top:66.67px;font-size:22.00px;color:#131722;font-family:'Liberation Sans',sans-serif;letter-spacing:0.300px;-webkit-text-stroke:0.3px #131722;">3,392.8</div>
<div class="t" style="left:943.70px;top:66.67px;font-size:22.00px;color:#131722;font-family:'Liberation Sans',sans-serif;letter-spacing:0.249px;-webkit-text-stroke:0.3px #131722;">+10.2 (+0.30%)</div>
<div class="t" style="left:1112.90px;top:66.67px;font-size:22.00px;color:#b4b7c1;font-family:'Liberation Sans',sans-serif;letter-spacing:-0.392px;">Vol</div>
<div class="t" style="left:1145.20px;top:66.67px;font-size:22.00px;color:#131722;font-family:'Liberation Sans',sans-serif;letter-spacing:-0.973px;-webkit-text-stroke:0.3px #131722;">57.37 K</div>
<div class="t" style="left:1229.20px;top:66.67px;font-size:22.00px;color:#131722;font-family:'Liberation Sans',sans-serif;letter-spacing:0.234px;-webkit-text-stroke:0.3px #131722;">+10.2 (+0.30%)</div>
<div class="t" style="left:135.60px;top:68.12px;font-size:22.30px;color:#131722;font-family:'Liberation Sans',sans-serif;letter-spacing:-1.691px;-webkit-text-stroke:0.3px #131722;">USD</div>
<div class="t" style="left:135.10px;top:110.02px;font-size:22.30px;color:#131722;font-family:'Liberation Sans',sans-serif;letter-spacing:-0.052px;-webkit-text-stroke:0.3px #131722;">apoz</div>
<div class="t" style="left:45.80px;top:74.18px;font-size:18.80px;color:#c0c3ce;font-family:'Liberation Sans',sans-serif;letter-spacing:0.987px;">118.0</div>
<div class="t" style="left:45.80px;top:122.74px;font-size:18.80px;color:#c0c3ce;font-family:'Liberation Sans',sans-serif;letter-spacing:0.987px;">116.0</div>
<div class="t" style="left:45.80px;top:171.30px;font-size:18.80px;color:#c0c3ce;font-family:'Liberation Sans',sans-serif;letter-spacing:0.987px;">114.0</div>
<div class="t" style="left:45.80px;top:219.86px;font-size:18.80px;color:#c0c3ce;font-family:'Liberation Sans',sans-serif;letter-spacing:0.987px;">112.0</div>
<div class="t" style="left:45.80px;top:268.42px;font-size:18.80px;color:#c0c3ce;font-family:'Liberation Sans',sans-serif;letter-spacing:0.987px;">110.0</div>
<div class="t" style="left:45.80px;top:316.98px;font-size:18.80px;color:#c0c3ce;font-family:'Liberation Sans',sans-serif;letter-spacing:0.638px;">108.0</div>
<div class="t" style="left:45.80px;top:365.54px;font-size:18.80px;color:#c0c3ce;font-family:'Liberation Sans',sans-serif;letter-spacing:0.638px;">106.0</div>
<div class="t" style="left:45.80px;top:414.10px;font-size:18.80px;color:#c0c3ce;font-family:'Liberation Sans',sans-serif;letter-spacing:0.638px;">104.0</div>
<div class="t" style="left:45.80px;top:462.66px;font-size:18.80px;color:#c0c3ce;font-family:'Liberation Sans',sans-serif;letter-spacing:0.638px;">102.0</div>
<div class="t" style="left:45.80px;top:511.22px;font-size:18.80px;color:#c0c3ce;font-family:'Liberation Sans',sans-serif;letter-spacing:0.638px;">100.0</div>
<div class="t" style="left:56.90px;top:559.78px;font-size:18.80px;color:#c0c3ce;font-family:'Liberation Sans',sans-serif;letter-spacing:0.637px;">98.0</div>
<div class="t" style="left:56.90px;top:608.34px;font-size:18.80px;color:#c0c3ce;font-family:'Liberation Sans',sans-serif;letter-spacing:0.637px;">96.0</div>
<div class="t" style="left:56.90px;top:656.90px;font-size:18.80px;color:#c0c3ce;font-family:'Liberation Sans',sans-serif;letter-spacing:0.637px;">94.0</div>
<div class="t" style="left:56.90px;top:705.46px;font-size:18.80px;color:#c0c3ce;font-family:'Liberation Sans',sans-serif;letter-spacing:0.637px;">92.0</div>
<div class="t" style="left:56.90px;top:754.02px;font-size:18.80px;color:#c0c3ce;font-family:'Liberation Sans',sans-serif;letter-spacing:0.637px;">90.0</div>
<div class="t" style="left:56.90px;top:802.58px;font-size:18.80px;color:#c0c3ce;font-family:'Liberation Sans',sans-serif;letter-spacing:0.637px;">88.0</div>
<div class="t" style="left:56.90px;top:851.14px;font-size:18.80px;color:#c0c3ce;font-family:'Liberation Sans',sans-serif;letter-spacing:0.637px;">86.0</div>
<div class="t" style="left:56.90px;top:899.70px;font-size:18.80px;color:#c0c3ce;font-family:'Liberation Sans',sans-serif;letter-spacing:0.637px;">84.0</div>
<div class="t" style="left:56.90px;top:948.26px;font-size:18.80px;color:#c0c3ce;font-family:'Liberation Sans',sans-serif;letter-spacing:0.637px;">82.0</div>
<div class="t" style="left:56.90px;top:996.82px;font-size:18.80px;color:#c0c3ce;font-family:'Liberation Sans',sans-serif;letter-spacing:0.637px;">80.0</div>
<div class="t" style="left:56.90px;top:1045.38px;font-size:18.80px;color:#c0c3ce;font-family:'Liberation Sans',sans-serif;letter-spacing:0.637px;">78.0</div>
<div class="t" style="left:56.90px;top:1093.94px;font-size:18.80px;color:#c0c3ce;font-family:'Liberation Sans',sans-serif;letter-spacing:0.637px;">76.0</div>
<div style="position:absolute;left:120px;top:152.2px;width:100px;height:20px;overflow:hidden;"><div class="t" style="left:20.70px;top:-11.21px;font-size:18.80px;color:#c0c3ce;font-family:'Liberation Sans',sans-serif;letter-spacing:0.646px;">3,600.0</div></div>
<div class="t" style="left:140.70px;top:221.88px;font-size:18.80px;color:#c0c3ce;font-family:'Liberation Sans',sans-serif;letter-spacing:0.646px;">3,500.0</div>
<div class="t" style="left:140.70px;top:302.77px;font-size:18.80px;color:#c0c3ce;font-family:'Liberation Sans',sans-serif;letter-spacing:0.646px;">3,400.0</div>
<div class="t" style="left:140.70px;top:383.66px;font-size:18.80px;color:#c0c3ce;font-family:'Liberation Sans',sans-serif;letter-spacing:0.646px;">3,300.0</div>
<div class="t" style="left:140.70px;top:464.55px;font-size:18.80px;color:#c0c3ce;font-family:'Liberation Sans',sans-serif;letter-spacing:0.646px;">3,200.0</div>
<div class="t" style="left:140.70px;top:545.44px;font-size:18.80px;color:#c0c3ce;font-family:'Liberation Sans',sans-serif;letter-spacing:0.646px;">3,100.0</div>
<div class="t" style="left:140.70px;top:626.33px;font-size:18.80px;color:#c0c3ce;font-family:'Liberation Sans',sans-serif;letter-spacing:0.646px;">3,000.0</div>
<div class="t" style="left:140.70px;top:707.22px;font-size:18.80px;color:#c0c3ce;font-family:'Liberation Sans',sans-serif;letter-spacing:0.646px;">2,900.0</div>
<div class="t" style="left:140.70px;top:788.11px;font-size:18.80px;color:#c0c3ce;font-family:'Liberation Sans',sans-serif;letter-spacing:0.646px;">2,800.0</div>
<div class="t" style="left:140.70px;top:869.00px;font-size:18.80px;color:#c0c3ce;font-family:'Liberation Sans',sans-serif;letter-spacing:0.646px;">2,700.0</div>
<div class="t" style="left:140.70px;top:949.89px;font-size:18.80px;color:#c0c3ce;font-family:'Liberation Sans',sans-serif;letter-spacing:0.646px;">2,600.0</div>
<div class="t" style="left:140.70px;top:1030.78px;font-size:18.80px;color:#c0c3ce;font-family:'Liberation Sans',sans-serif;letter-spacing:0.646px;">2,500.0</div>
<div class="t" style="left:2700.30px;top:60.18px;font-size:18.80px;color:#c0c3ce;font-family:'Liberation Sans',sans-serif;letter-spacing:0.233px;">0.6</div>
<div class="t" style="left:2700.30px;top:147.44px;font-size:18.80px;color:#c0c3ce;font-family:'Liberation Sans',sans-serif;letter-spacing:0.233px;">0.5</div>
<div class="t" style="left:2700.30px;top:234.70px;font-size:18.80px;color:#c0c3ce;font-family:'Liberation Sans',sans-serif;letter-spacing:0.233px;">0.4</div>
<div class="t" style="left:2700.30px;top:321.96px;font-size:18.80px;color:#c0c3ce;font-family:'Liberation Sans',sans-serif;letter-spacing:0.233px;">0.3</div>
<div class="t" style="left:2700.30px;top:409.22px;font-size:18.80px;color:#c0c3ce;font-family:'Liberation Sans',sans-serif;letter-spacing:0.233px;">0.2</div>
<div class="t" style="left:2700.30px;top:496.48px;font-size:18.80px;color:#c0c3ce;font-family:'Liberation Sans',sans-serif;letter-spacing:0.233px;">0.1</div>
<div class="t" style="left:2700.30px;top:583.74px;font-size:18.80px;color:#c0c3ce;font-family:'Liberation Sans',sans-serif;letter-spacing:0.233px;">0.0</div>
<div class="t" style="left:2700.20px;top:671.00px;font-size:18.80px;color:#c0c3ce;font-family:'Liberation Sans',sans-serif;">−</div>
<div class="t" style="left:2711.90px;top:671.00px;font-size:18.80px;color:#c0c3ce;font-family:'Liberation Sans',sans-serif;letter-spacing:0.233px;">0.1</div>
<div class="t" style="left:2700.20px;top:758.26px;font-size:18.80px;color:#c0c3ce;font-family:'Liberation Sans',sans-serif;">−</div>
<div class="t" style="left:2711.90px;top:758.26px;font-size:18.80px;color:#c0c3ce;font-family:'Liberation Sans',sans-serif;letter-spacing:0.233px;">0.2</div>
<div class="t" style="left:2700.20px;top:845.52px;font-size:18.80px;color:#c0c3ce;font-family:'Liberation Sans',sans-serif;">−</div>
<div class="t" style="left:2711.90px;top:845.52px;font-size:18.80px;color:#c0c3ce;font-family:'Liberation Sans',sans-serif;letter-spacing:0.233px;">0.3</div>
<div class="t" style="left:2700.20px;top:932.78px;font-size:18.80px;color:#c0c3ce;font-family:'Liberation Sans',sans-serif;">−</div>
<div class="t" style="left:2711.90px;top:932.78px;font-size:18.80px;color:#c0c3ce;font-family:'Liberation Sans',sans-serif;letter-spacing:0.233px;">0.4</div>
<div class="t" style="left:2700.20px;top:1020.04px;font-size:18.80px;color:#c0c3ce;font-family:'Liberation Sans',sans-serif;">−</div>
<div class="t" style="left:2711.90px;top:1020.04px;font-size:18.80px;color:#c0c3ce;font-family:'Liberation Sans',sans-serif;letter-spacing:0.233px;">0.5</div>
<div style="position:absolute;left:120px;top:1115px;width:100px;height:20px;overflow:hidden;"><div class="t" style="left:49.10px;top:-5.56px;font-size:18.80px;color:#c0c3ce;font-family:'Liberation Sans',sans-serif;letter-spacing:0.570px;">90.0</div></div>
<div class="t" style="left:169.10px;top:1177.88px;font-size:18.80px;color:#c0c3ce;font-family:'Liberation Sans',sans-serif;letter-spacing:0.570px;z-index:1;">80.0</div>
<div class="t" style="left:169.10px;top:1246.32px;font-size:18.80px;color:#c0c3ce;font-family:'Liberation Sans',sans-serif;letter-spacing:0.570px;z-index:1;">70.0</div>
<div class="t" style="left:169.10px;top:1383.20px;font-size:18.80px;color:#c0c3ce;font-family:'Liberation Sans',sans-serif;letter-spacing:0.570px;z-index:1;">50.0</div>
<div class="t" style="left:169.10px;top:1451.64px;font-size:18.80px;color:#c0c3ce;font-family:'Liberation Sans',sans-serif;letter-spacing:0.570px;z-index:1;">40.0</div>
<div class="t" style="left:169.10px;top:1520.08px;font-size:18.80px;color:#c0c3ce;font-family:'Liberation Sans',sans-serif;letter-spacing:0.570px;z-index:1;">30.0</div>
<div class="t" style="left:169.10px;top:1588.52px;font-size:18.80px;color:#c0c3ce;font-family:'Liberation Sans',sans-serif;letter-spacing:0.570px;z-index:1;">20.0</div>
<div class="t" style="left:170.20px;top:1656.96px;font-size:18.80px;color:#c0c3ce;font-family:'Liberation Sans',sans-serif;letter-spacing:0.203px;z-index:1;">10.0</div>
<div class="t" style="left:237.60px;top:1135.37px;font-size:22.00px;color:#b4b7c1;font-family:'Liberation Sans',sans-serif;letter-spacing:0.311px;">CandelaCharts - Dip Index</div>
<div class="t" style="left:518.00px;top:1135.37px;font-size:22.00px;color:#2962ff;font-family:'Liberation Sans',sans-serif;letter-spacing:0.260px;-webkit-text-stroke:0.3px #2962ff;">60.0</div>
<div class="t" style="left:575.40px;top:1135.37px;font-size:22.00px;color:#2962ff;font-family:'Liberation Sans',sans-serif;letter-spacing:0.360px;-webkit-text-stroke:0.3px #2962ff;">60.0</div>
<div class="t" style="left:633.40px;top:1135.37px;font-size:22.00px;color:#2962ff;font-family:'Liberation Sans',sans-serif;letter-spacing:0.260px;-webkit-text-stroke:0.3px #2962ff;">60.0</div>
<div class="t" style="left:691.90px;top:1139.11px;font-size:17.00px;color:#a9acb6;font-family:'Liberation Sans',sans-serif;">∅</div>
<div class="t" style="left:719.60px;top:1139.11px;font-size:17.00px;color:#a9acb6;font-family:'Liberation Sans',sans-serif;">∅</div>
<div class="t" style="left:747.40px;top:1139.11px;font-size:17.00px;color:#a9acb6;font-family:'Liberation Sans',sans-serif;">∅</div>
<div class="t" style="left:2530.90px;top:1637.81px;font-size:14.40px;color:#787b86;font-family:'Liberation Mono',monospace;letter-spacing:-0.016px;">© CandelaCharts</div>
<div class="t" style="left:223.45px;top:1689.32px;font-size:19.70px;color:#b9bcc7;font-family:'Liberation Sans',sans-serif;letter-spacing:-1.231px;">Jun</div>
<div class="t" style="left:365.05px;top:1689.32px;font-size:19.70px;color:#b9bcc7;font-family:'Liberation Sans',sans-serif;letter-spacing:-0.542px;">Jul</div>
<div class="t" style="left:521.70px;top:1689.32px;font-size:19.70px;color:#b9bcc7;font-family:'Liberation Sans',sans-serif;letter-spacing:-1.126px;">Aug</div>
<div class="t" style="left:682.30px;top:1689.32px;font-size:19.70px;color:#b9bcc7;font-family:'Liberation Sans',sans-serif;letter-spacing:-1.726px;">Sep</div>
<div class="t" style="left:830.10px;top:1689.32px;font-size:19.70px;color:#b9bcc7;font-family:'Liberation Sans',sans-serif;letter-spacing:-0.323px;">Oct</div>
<div class="t" style="left:997.15px;top:1689.32px;font-size:19.70px;color:#b9bcc7;font-family:'Liberation Sans',sans-serif;letter-spacing:-1.567px;">Nov</div>
<div class="t" style="left:1142.70px;top:1689.32px;font-size:19.70px;color:#b9bcc7;font-family:'Liberation Sans',sans-serif;letter-spacing:-1.117px;">Dec</div>
<div class="t" style="left:1288.30px;top:1689.32px;font-size:19.70px;color:#b0b3be;font-family:'Liberation Sans',sans-serif;letter-spacing:1.258px;font-weight:bold;">2025</div>
<div class="t" style="left:1450.75px;top:1689.32px;font-size:19.70px;color:#b9bcc7;font-family:'Liberation Sans',sans-serif;letter-spacing:-1.623px;">Feb</div>
<div class="t" style="left:1588.10px;top:1689.32px;font-size:19.70px;color:#b9bcc7;font-family:'Liberation Sans',sans-serif;letter-spacing:-0.964px;">Mar</div>
<div class="t" style="left:1743.55px;top:1689.32px;font-size:19.70px;color:#b9bcc7;font-family:'Liberation Sans',sans-serif;letter-spacing:-0.778px;">Apr</div>
<div class="t" style="left:1894.25px;top:1689.32px;font-size:19.70px;color:#b9bcc7;font-family:'Liberation Sans',sans-serif;letter-spacing:-1.758px;">May</div>
<div class="t" style="left:2050.65px;top:1689.32px;font-size:19.70px;color:#b9bcc7;font-family:'Liberation Sans',sans-serif;letter-spacing:-1.431px;">Jun</div>
<div class="t" style="left:2198.95px;top:1689.32px;font-size:19.70px;color:#b9bcc7;font-family:'Liberation Sans',sans-serif;letter-spacing:-0.442px;">Jul</div>
<div class="t" style="left:2355.70px;top:1689.32px;font-size:19.70px;color:#b9bcc7;font-family:'Liberation Sans',sans-serif;letter-spacing:-1.126px;">Aug</div>
<div class="t" style="left:2508.90px;top:1689.32px;font-size:19.70px;color:#b9bcc7;font-family:'Liberation Sans',sans-serif;letter-spacing:-1.326px;">Sep</div>
<div style="position:absolute;left:2650px;top:1680px;width:33.8px;height:36px;overflow:hidden;"><div class="t" style="left:13.20px;top:9.32px;font-size:19.7px;letter-spacing:-0.4px;color:#b9bcc7;font-family:'Liberation Sans',sans-serif;">Oct</div></div>
<div style="position:absolute;left:48.50px;top:1681.20px;width:33.6px;height:33.6px;border-radius:50%;background:#f5f5f5;"></div>
<div class="t" style="left:58.70px;top:1689.44px;font-size:19.80px;color:#4a4a4a;font-family:'Liberation Sans',sans-serif;-webkit-text-stroke:0.45px #4a4a4a;">Y</div>
<div style="position:absolute;left:150.80px;top:1681.20px;width:33.6px;height:33.6px;border-radius:50%;background:#f5f5f5;"></div>
<div class="t" style="left:161.55px;top:1689.44px;font-size:19.80px;color:#4a4a4a;font-family:'Liberation Sans',sans-serif;-webkit-text-stroke:0.45px #4a4a4a;">Z</div>
<div style="position:absolute;left:2714.40px;top:1681.20px;width:33.6px;height:33.6px;border-radius:50%;background:#f5f5f5;"></div>
<div class="t" style="left:2724.60px;top:1689.44px;font-size:19.80px;color:#4a4a4a;font-family:'Liberation Sans',sans-serif;-webkit-text-stroke:0.45px #4a4a4a;">A</div>
<div style="position:absolute;left:120.8px;top:307.2px;width:102px;height:24.7px;background:#4caf50;border-radius:3px 0 0 3px;"></div>
<div class="t" style="left:128.90px;top:311.15px;font-size:18.60px;color:#d3edd4;font-family:'Liberation Sans',sans-serif;letter-spacing:0.871px;">10:03:06</div>
<div style="position:absolute;left:160px;top:1260.20px;width:62.8px;height:24.6px;background:#2962ff;border-radius:3px 0 0 3px;z-index:2;"></div>
<div class="t" style="left:168.60px;top:1264.48px;font-size:18.80px;color:#ffffff;font-family:'Liberation Sans',sans-serif;letter-spacing:0.803px;z-index:3;">60.0</div>
<div style="position:absolute;left:160px;top:1285.70px;width:62.8px;height:25.8px;background:#2962ff;border-radius:3px 0 0 3px;z-index:2;"></div>
<div class="t" style="left:168.60px;top:1289.98px;font-size:18.80px;color:#ffffff;font-family:'Liberation Sans',sans-serif;letter-spacing:0.803px;z-index:3;">60.0</div>
<div style="position:absolute;left:160px;top:1311.30px;width:62.8px;height:24.6px;background:#2962ff;border-radius:3px 0 0 3px;z-index:2;"></div>
<div class="t" style="left:168.60px;top:1315.58px;font-size:18.80px;color:#ffffff;font-family:'Liberation Sans',sans-serif;letter-spacing:0.803px;z-index:3;">60.0</div>
<div class="t" style="left:2470.60px;top:1318.06px;font-size:12.80px;color:#ffffff;font-family:'Liberation Sans',sans-serif;letter-spacing:1.237px;z-index:3;">60.03%</div>
<div class="t" style="left:88.40px;top:1755.91px;font-size:38.50px;color:#131313;font-family:'Liberation Sans',sans-serif;letter-spacing:-0.868px;font-weight:bold;">TradingView</div>
</body></html>
